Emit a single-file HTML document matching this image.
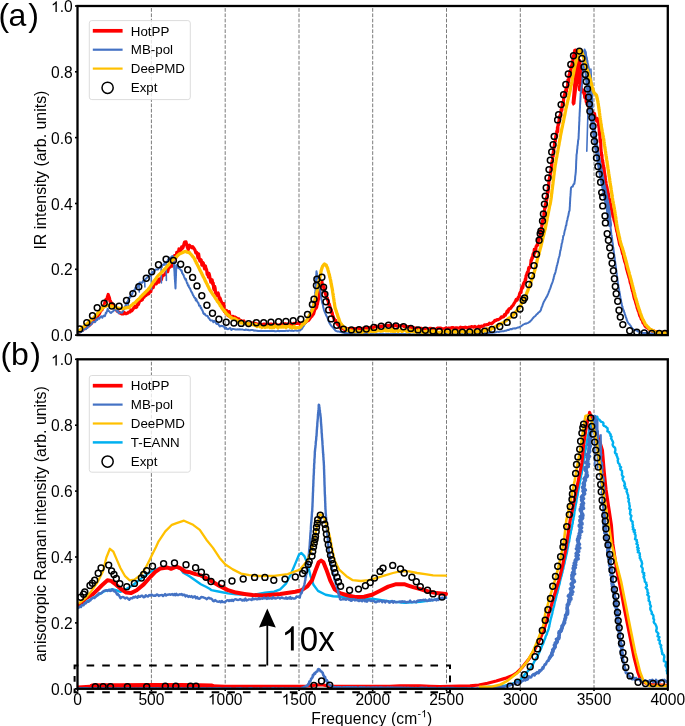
<!DOCTYPE html><html><head><meta charset="utf-8"><style>html,body{margin:0;padding:0;background:#fff;}svg{display:block;} text{font-family:"Liberation Sans",sans-serif;fill:#000;} svg{will-change:transform;}</style></head><body>
<svg width="685" height="726" viewBox="0 0 685 726">
<line x1="151.4" y1="335.1" x2="151.4" y2="6.0" stroke="#7a7a7a" stroke-width="1" stroke-dasharray="3.7 1.6"/>
<line x1="225.2" y1="335.1" x2="225.2" y2="6.0" stroke="#7a7a7a" stroke-width="1" stroke-dasharray="3.7 1.6"/>
<line x1="299.0" y1="335.1" x2="299.0" y2="6.0" stroke="#7a7a7a" stroke-width="1" stroke-dasharray="3.7 1.6"/>
<line x1="372.7" y1="335.1" x2="372.7" y2="6.0" stroke="#7a7a7a" stroke-width="1" stroke-dasharray="3.7 1.6"/>
<line x1="446.5" y1="335.1" x2="446.5" y2="6.0" stroke="#7a7a7a" stroke-width="1" stroke-dasharray="3.7 1.6"/>
<line x1="520.3" y1="335.1" x2="520.3" y2="6.0" stroke="#7a7a7a" stroke-width="1" stroke-dasharray="3.7 1.6"/>
<line x1="594.0" y1="335.1" x2="594.0" y2="6.0" stroke="#7a7a7a" stroke-width="1" stroke-dasharray="3.7 1.6"/>
<g clip-path="url(#ca)">
<path d="M78.6,332.2 L79.7,331.9 L80.7,331.0 L81.8,330.6 L82.9,330.0 L83.9,328.6 L85.0,327.8 L86.0,328.1 L87.0,326.4 L88.0,325.5 L89.0,325.9 L90.0,324.2 L91.0,323.9 L92.0,322.5 L92.8,321.8 L93.7,320.0 L94.5,320.0 L95.3,319.6 L96.2,318.0 L97.0,317.5 L97.7,316.2 L98.4,313.7 L99.1,314.2 L99.9,312.6 L100.6,310.8 L101.3,309.0 L102.0,309.9 L102.5,307.8 L103.0,307.3 L103.5,306.5 L104.0,304.9 L104.5,304.4 L105.0,301.7 L105.5,301.7 L106.0,299.3 L106.5,299.6 L107.0,298.2 L108.2,294.5 L108.8,296.2 L109.5,298.1 L110.0,301.6 L110.5,301.1 L111.0,302.9 L111.8,303.1 L112.5,304.8 L113.2,305.6 L114.0,306.6 L115.0,308.2 L116.0,309.2 L117.0,311.0 L118.0,311.4 L119.2,312.7 L120.5,313.1 L121.8,314.0 L123.0,313.9 L124.2,312.4 L125.3,313.7 L126.5,313.6 L127.7,313.1 L128.8,312.0 L130.0,312.0 L131.0,310.0 L132.0,310.7 L133.0,309.2 L134.0,307.6 L135.0,306.2 L136.0,307.5 L136.8,306.9 L137.6,303.3 L138.4,304.4 L139.2,302.2 L140.0,300.4 L140.8,299.9 L141.6,300.3 L142.4,299.7 L143.3,296.1 L144.2,297.0 L145.2,294.1 L146.1,295.5 L147.0,293.2 L147.9,294.2 L148.9,293.6 L149.8,291.0 L150.7,291.8 L151.5,288.3 L152.3,286.5 L153.2,287.5 L154.0,284.4 L154.8,284.0 L155.6,283.9 L156.4,283.8 L157.3,281.0 L158.1,279.5 L158.9,282.1 L159.7,278.8 L160.6,280.7 L161.4,279.5 L162.2,276.2 L163.0,275.7 L163.9,275.0 L164.7,274.7 L165.5,273.3 L166.2,272.0 L167.0,271.2 L167.7,271.6 L168.5,268.3 L169.2,266.8 L170.0,267.1 L170.8,263.5 L171.5,262.7 L172.2,266.1 L173.0,261.7 L173.8,260.7 L174.5,255.7 L175.2,257.5 L176.0,257.6 L176.8,252.3 L177.5,255.3 L178.2,254.2 L179.0,248.8 L179.7,251.9 L180.3,249.8 L181.0,250.3 L181.7,246.9 L182.3,248.5 L183.0,247.7 L184.5,242.1 L186.0,241.8 L187.2,246.9 L188.3,249.7 L189.5,245.2 L190.8,246.7 L192.0,247.7 L192.8,246.7 L193.5,248.0 L194.2,248.7 L195.0,250.1 L195.8,252.9 L196.5,252.1 L197.2,253.9 L198.0,258.0 L198.6,253.8 L199.3,258.9 L199.9,261.2 L200.6,259.4 L201.2,259.9 L201.9,265.2 L202.6,262.2 L203.3,263.0 L203.9,265.9 L204.6,268.9 L205.3,265.7 L206.0,268.4 L206.6,269.7 L207.2,274.5 L207.8,272.9 L208.4,277.1 L209.0,273.3 L209.6,275.7 L210.2,279.2 L210.8,282.1 L211.3,280.1 L211.8,279.6 L212.2,280.1 L212.7,284.2 L213.2,282.9 L213.7,288.5 L214.2,289.9 L214.6,286.3 L215.1,288.1 L215.6,293.1 L216.2,293.1 L216.8,295.5 L217.4,293.4 L218.1,293.0 L218.7,295.4 L219.3,300.2 L219.9,297.7 L220.5,299.4 L221.0,301.0 L221.6,302.2 L222.1,303.2 L222.7,308.0 L223.2,303.6 L223.8,303.6 L224.3,311.5 L225.1,311.9 L225.9,313.6 L226.7,310.5 L227.6,315.1 L228.4,315.8 L229.2,311.6 L230.0,316.3 L231.2,317.7 L232.5,316.3 L233.8,316.8 L235.0,317.1 L236.2,317.9 L237.5,318.5 L238.8,318.9 L240.0,320.7 L241.3,320.6 L242.6,322.0 L243.9,321.0 L245.2,323.0 L246.4,322.9 L247.6,323.6 L248.8,323.9 L250.0,324.2 L251.2,323.7 L252.5,322.9 L253.8,324.2 L255.0,323.4 L256.2,323.7 L257.5,324.4 L258.8,324.2 L260.0,324.2 L261.2,325.0 L262.5,324.5 L263.8,324.1 L265.0,324.0 L266.2,325.0 L267.5,324.4 L268.8,324.9 L270.0,324.2 L271.2,324.0 L272.5,324.5 L273.8,325.0 L275.0,324.0 L276.2,325.0 L277.5,325.2 L278.8,325.1 L280.0,325.1 L281.2,323.8 L282.5,324.7 L283.8,325.1 L285.0,323.7 L286.2,324.1 L287.5,324.0 L288.8,324.4 L290.0,324.2 L291.2,324.3 L292.5,324.7 L293.8,323.4 L295.0,323.5 L296.3,323.4 L297.6,323.3 L298.9,323.0 L300.1,324.4 L301.4,324.1 L302.7,322.6 L304.0,323.2 L305.3,322.7 L306.3,321.7 L307.2,320.9 L308.2,320.5 L309.2,319.5 L310.2,318.1 L311.1,316.8 L312.1,316.1 L312.6,314.6 L313.2,314.4 L313.7,313.6 L314.2,311.7 L314.8,309.8 L315.3,308.9 L315.9,308.3 L316.4,307.8 L316.7,307.0 L317.0,304.7 L317.3,304.6 L317.6,302.9 L318.0,301.0 L318.3,299.6 L318.6,298.7 L318.9,298.2 L319.1,295.9 L319.3,295.6 L319.4,293.5 L319.6,291.4 L319.8,291.1 L319.9,290.4 L320.1,286.7 L320.2,286.7 L320.3,285.4 L320.5,285.9 L320.6,284.8 L322.0,282.0 L322.4,285.5 L322.8,286.3 L323.2,285.6 L323.6,287.6 L324.1,287.5 L324.5,291.4 L324.9,292.0 L325.4,294.0 L325.8,294.9 L326.2,295.7 L326.5,297.1 L326.9,297.8 L327.2,297.6 L327.6,300.3 L327.9,299.8 L328.3,301.4 L328.7,304.6 L329.2,303.8 L329.6,305.2 L330.0,306.6 L330.5,309.9 L330.9,309.4 L331.3,310.2 L331.8,313.3 L332.2,312.7 L332.6,315.5 L333.1,316.2 L333.5,317.7 L334.1,319.0 L334.6,319.3 L335.2,320.8 L335.8,320.5 L336.3,322.9 L336.9,323.5 L337.8,324.8 L338.6,324.8 L339.5,326.8 L340.3,328.0 L341.2,327.7 L342.5,328.4 L343.7,329.1 L345.0,329.7 L346.2,328.8 L347.5,328.6 L348.8,328.6 L350.0,329.0 L351.2,329.1 L352.5,328.7 L353.8,328.6 L355.0,328.7 L356.2,328.6 L357.5,328.7 L358.8,328.2 L360.0,328.8 L361.2,329.3 L362.5,328.4 L363.8,328.7 L365.0,327.7 L366.2,328.3 L367.5,328.2 L368.8,327.9 L370.0,327.5 L371.3,327.3 L372.5,327.4 L373.8,327.7 L375.1,326.4 L376.4,326.2 L377.6,327.0 L378.9,327.1 L380.2,326.4 L381.5,326.1 L382.7,326.4 L384.0,325.4 L385.2,325.5 L386.4,325.3 L387.7,325.9 L388.9,325.4 L390.1,325.3 L391.3,325.9 L392.6,326.3 L393.8,325.2 L395.0,325.8 L396.2,325.5 L397.5,326.3 L398.8,326.0 L400.0,325.6 L401.2,325.7 L402.5,325.5 L403.8,326.3 L405.0,326.3 L406.2,326.2 L407.5,326.7 L408.8,326.8 L410.0,327.7 L411.2,326.9 L412.5,328.3 L413.8,327.8 L415.0,328.1 L416.2,328.0 L417.5,328.6 L418.8,328.7 L420.0,328.3 L421.2,328.3 L422.5,328.7 L423.8,329.0 L425.0,328.4 L426.2,328.9 L427.5,329.3 L428.8,328.7 L430.0,328.4 L431.2,328.4 L432.4,329.0 L433.6,328.9 L434.9,329.3 L436.1,329.1 L437.3,328.2 L438.5,328.1 L439.7,328.2 L440.9,328.1 L442.2,328.8 L443.4,328.9 L444.6,329.0 L445.8,328.0 L447.0,328.8 L448.2,328.0 L449.5,328.2 L450.7,328.6 L451.9,327.6 L453.1,327.6 L454.3,328.6 L455.6,327.8 L456.8,327.9 L458.0,328.1 L459.2,328.2 L460.4,327.2 L461.6,327.6 L462.9,327.7 L464.1,327.6 L465.3,327.2 L466.5,327.6 L467.7,328.1 L468.9,327.2 L470.1,327.3 L471.4,326.6 L472.6,326.8 L473.8,327.2 L475.0,326.4 L476.3,327.5 L477.5,327.4 L478.8,326.2 L480.0,327.4 L481.2,326.1 L482.4,326.3 L483.5,325.9 L484.7,324.8 L485.9,325.0 L487.1,324.6 L488.3,324.5 L489.4,323.2 L490.6,323.6 L491.8,323.6 L492.9,322.5 L494.0,321.7 L495.0,320.3 L496.1,320.4 L497.2,319.6 L498.3,319.7 L499.4,319.0 L500.5,318.2 L501.5,316.8 L502.6,317.2 L503.7,316.6 L504.5,314.6 L505.4,315.1 L506.2,313.5 L507.1,311.2 L507.9,312.1 L508.8,309.1 L509.6,308.6 L510.4,308.6 L511.3,307.3 L512.1,306.2 L513.0,305.4 L513.8,303.9 L514.7,302.5 L515.5,301.0 L516.2,299.5 L516.9,300.3 L517.6,299.2 L518.3,297.3 L519.0,296.8 L519.5,294.3 L520.0,292.8 L520.5,292.0 L521.0,292.6 L521.5,288.3 L521.9,288.9 L522.3,286.7 L522.8,287.6 L523.2,284.8 L523.6,283.5 L524.0,282.6 L524.4,282.0 L524.9,281.9 L525.3,279.0 L525.7,280.0 L526.1,275.6 L526.5,275.2 L527.0,273.3 L527.4,272.2 L527.8,274.1 L528.1,272.7 L528.5,268.8 L528.9,267.6 L529.3,267.5 L529.6,268.0 L530.0,267.1 L530.4,265.6 L530.8,263.6 L531.1,260.0 L531.5,260.2 L531.9,257.9 L532.2,258.5 L532.6,257.6 L533.0,254.3 L533.4,253.3 L533.9,255.2 L534.3,249.4 L534.8,252.8 L535.2,252.1 L535.6,251.2 L536.1,246.5 L536.5,246.3 L536.9,245.2 L537.4,244.2 L537.8,245.0 L538.2,242.0 L538.6,238.4 L539.1,240.4 L539.5,236.9 L539.8,236.4 L540.1,235.9 L540.3,230.3 L540.6,233.7 L540.9,231.9 L541.2,229.6 L541.4,228.6 L541.7,227.0 L542.0,224.2 L542.2,224.9 L542.5,220.7 L542.7,222.2 L542.9,221.8 L543.1,219.3 L543.4,218.8 L543.6,219.8 L543.8,218.2 L544.0,212.4 L544.3,215.0 L544.5,212.7 L544.7,208.1 L544.9,208.7 L545.1,206.7 L545.3,204.5 L545.5,206.1 L545.7,207.2 L545.8,202.3 L546.0,204.4 L546.2,202.1 L546.4,197.5 L546.6,200.6 L546.8,197.8 L547.0,198.6 L547.2,196.1 L547.4,195.0 L547.6,191.4 L547.8,192.9 L548.0,192.4 L548.2,190.8 L548.3,187.0 L548.5,187.7 L548.7,184.8 L548.9,181.3 L549.1,179.7 L549.3,178.7 L549.5,178.2 L549.7,176.8 L549.9,177.6 L550.0,177.6 L550.2,175.4 L550.4,173.5 L550.6,173.6 L550.8,170.3 L550.9,170.1 L551.1,170.6 L551.3,167.3 L551.5,164.7 L551.6,167.8 L551.8,165.5 L552.0,162.2 L552.2,161.0 L552.4,160.7 L552.5,159.9 L552.7,156.5 L552.9,153.9 L553.1,154.0 L553.2,156.2 L553.4,151.1 L553.6,151.8 L553.8,149.0 L554.0,147.9 L554.1,146.5 L554.3,146.6 L554.5,144.0 L554.7,141.9 L555.0,141.2 L555.2,140.3 L555.4,141.0 L555.7,137.2 L555.9,135.7 L556.1,137.1 L556.3,135.6 L556.6,136.1 L556.8,131.0 L557.0,131.9 L557.3,130.6 L557.5,127.2 L557.7,131.6 L558.0,125.9 L558.2,124.0 L558.4,125.1 L558.6,122.1 L558.9,123.6 L559.1,120.8 L559.3,118.3 L559.5,116.7 L559.8,119.5 L560.0,115.7 L560.2,117.5 L560.5,114.4 L560.8,116.0 L561.0,111.0 L561.2,109.5 L561.5,108.4 L561.8,110.5 L562.0,108.2 L562.2,105.3 L562.5,102.6 L562.8,104.8 L563.1,105.3 L563.4,101.8 L563.8,97.0 L564.1,95.9 L564.4,95.0 L564.7,94.3 L565.0,92.2 L565.3,91.1 L565.6,93.4 L565.9,93.7 L566.1,88.2 L566.4,91.6 L566.7,87.4 L567.0,88.1 L567.3,87.5 L567.6,86.4 L567.9,79.8 L568.1,80.2 L568.4,80.8 L568.7,81.6 L569.0,75.2 L569.2,75.2 L569.5,77.3 L569.8,71.7 L570.1,72.1 L570.3,70.5 L570.6,71.3 L570.9,71.6 L571.2,65.8 L571.5,67.9 L571.7,66.7 L572.0,66.0 L572.3,63.0 L572.6,64.0 L572.9,59.3 L573.1,58.3 L573.4,55.9 L573.7,58.0 L574.0,54.9 L574.4,52.2 L574.8,50.3 L575.1,52.2 L575.5,50.1 L576.0,52.0 L576.5,51.3 L576.6,53.2 L576.7,52.5 L576.8,57.1 L576.9,54.2 L577.0,58.2 L577.0,61.2 L577.1,62.0 L577.2,59.8 L577.3,61.9 L577.4,66.8 L577.5,66.9 L577.9,67.1 L578.3,65.8 L578.7,62.1 L579.1,63.6 L579.5,61.4 L579.6,60.3 L579.8,61.7 L579.9,61.2 L580.0,64.4 L580.1,69.0 L580.2,65.1 L580.4,69.2 L580.5,67.7 L580.6,68.7 L580.8,73.4 L580.9,72.2 L581.0,72.3 L580.9,74.2 L580.7,78.5 L580.5,79.4 L580.4,77.3 L580.2,79.9 L580.1,85.6 L580.0,82.4 L579.8,85.8 L579.6,86.2 L579.5,89.7 L580.5,89.6 L581.5,91.7 L582.4,91.2 L583.4,90.1 L583.9,91.3 L584.3,91.9 L584.8,97.6 L585.2,94.5 L585.7,95.1 L586.2,102.0 L586.6,98.6 L587.1,104.0 L587.5,100.3 L588.0,103.8 L588.6,103.6 L589.2,108.5 L589.8,108.4 L590.4,109.9 L591.0,111.8 L591.6,113.7 L592.3,111.7 L593.1,114.3 L593.8,114.5 L594.5,113.6 L595.3,119.0 L596.0,118.7 L596.7,121.1 L597.5,118.5 L598.2,121.6 L598.3,122.4 L598.5,125.3 L598.6,122.6 L598.8,125.4 L598.9,127.5 L599.0,126.3 L599.2,130.4 L599.3,132.7 L599.5,132.1 L599.6,134.7 L599.8,135.7 L599.9,134.6 L600.0,136.7 L600.1,141.8 L600.3,139.1 L600.4,141.0 L600.5,140.2 L600.6,142.3 L600.8,143.2 L600.9,149.1 L601.0,149.2 L601.1,151.3 L601.3,153.3 L601.4,152.3 L601.5,155.5 L601.7,154.4 L601.9,155.0 L602.1,159.4 L602.3,160.4 L602.5,161.9 L602.7,160.4 L602.8,163.4 L603.0,162.5 L603.2,167.3 L603.4,168.1 L603.6,165.6 L603.8,170.7 L604.0,167.5 L604.2,170.1 L604.4,172.2 L604.6,172.9 L604.8,174.5 L605.0,175.9 L605.2,176.4 L605.3,178.6 L605.5,179.2 L605.7,180.7 L605.9,181.9 L606.1,183.7 L606.3,185.0 L606.5,185.6 L606.8,186.6 L607.1,188.1 L607.3,189.5 L607.6,190.3 L607.9,191.6 L608.2,193.7 L608.5,194.9 L608.8,196.5 L609.0,197.8 L609.3,198.9 L609.6,199.4 L609.8,200.3 L610.1,201.7 L610.3,203.1 L610.6,204.4 L610.8,205.7 L611.0,206.6 L611.3,208.5 L611.5,208.9 L611.8,210.3 L612.0,212.1 L612.3,213.2 L612.5,213.7 L612.8,214.9 L613.1,216.9 L613.5,217.0 L613.8,218.4 L614.1,220.1 L614.5,221.4 L614.8,222.0 L615.1,223.1 L615.4,224.5 L615.8,226.5 L616.1,227.3 L616.4,229.3 L616.6,230.2 L616.9,231.7 L617.1,231.5 L617.4,233.0 L617.6,233.9 L617.8,235.7 L618.1,236.8 L618.3,237.6 L618.6,239.5 L618.8,240.0 L619.1,241.5 L619.3,242.6 L619.7,244.6 L620.1,245.2 L620.5,246.2 L621.0,247.0 L621.4,248.7 L621.8,250.2 L622.1,251.4 L622.4,253.0 L622.7,254.0 L623.1,254.4 L623.4,255.4 L623.7,257.5 L624.0,258.7 L624.3,259.5 L624.6,261.1 L624.9,261.9 L625.2,262.7 L625.6,263.8 L625.9,264.8 L626.2,266.8 L626.5,268.4 L626.8,269.6 L627.1,270.1 L627.4,271.6 L627.8,273.1 L628.1,274.2 L628.4,275.1 L628.7,276.0 L629.0,277.3 L629.3,278.0 L629.7,279.2 L630.0,281.1 L630.3,282.7 L630.6,283.3 L630.9,284.3 L631.2,285.4 L631.5,286.7 L631.8,288.4 L632.1,289.1 L632.4,290.9 L632.7,291.0 L633.0,292.4 L633.3,293.9 L633.6,294.9 L633.9,296.7 L634.2,297.9 L634.6,299.2 L634.9,299.9 L635.2,300.3 L635.6,302.2 L636.0,303.4 L636.3,304.5 L636.7,305.4 L637.0,307.1 L637.4,308.6 L637.7,308.6 L638.1,310.6 L638.6,311.4 L639.0,312.8 L639.4,314.5 L639.8,315.8 L640.3,316.5 L640.7,317.1 L641.3,319.3 L641.9,319.4 L642.5,320.9 L643.0,322.7 L643.6,323.2 L644.2,324.3 L645.2,326.2 L646.1,327.1 L647.1,327.2 L648.0,328.3 L649.0,329.1 L650.2,329.4 L651.4,330.1 L652.6,331.6 L653.8,330.9 L655.0,331.6 L656.2,331.6 L657.5,331.5 L658.8,332.1 L660.0,332.5 L661.2,332.7 L662.5,332.4 L663.8,332.7 L665.0,331.6" fill="none" stroke="#ff0000" stroke-width="3.2" stroke-linejoin="round" stroke-linecap="round" />
<polygon points="575.5,49.5 578.0,55.0 580.0,63.0 582.0,68.0 582.5,78.0 582.8,88.0 584.5,92.0 586.0,97.0 584.5,99.0 582.5,94.0 580.5,88.0 579.5,84.0 578.3,84.0 577.0,90.0 576.0,98.0 575.4,104.0 573.0,106.0 571.5,103.0 572.5,92.0 573.5,80.0 574.5,66.0 575.0,55.0" fill="#ff0000"/>
<path d="M78.6,332.9 L79.5,332.6 L80.4,332.2 L81.2,332.0 L82.1,331.0 L83.0,330.9 L83.9,328.2 L84.8,328.7 L85.7,329.3 L86.5,328.0 L87.4,328.1 L88.3,325.6 L89.2,325.9 L90.0,324.7 L90.8,324.8 L91.6,324.2 L92.4,322.2 L93.2,322.0 L94.0,321.5 L94.8,322.3 L95.6,321.3 L96.4,319.2 L97.2,320.0 L98.2,318.0 L99.3,318.6 L100.3,317.0 L101.3,316.2 L102.3,317.8 L103.4,315.8 L104.4,315.3 L104.9,316.2 L105.3,315.0 L105.8,312.7 L106.3,313.3 L106.8,311.4 L107.2,310.8 L107.7,308.7 L108.5,311.1 L109.3,311.2 L110.1,312.5 L110.9,313.0 L111.7,312.2 L112.7,311.7 L113.7,310.6 L114.7,309.9 L115.7,309.1 L116.5,310.3 L117.3,311.7 L118.0,310.9 L118.8,313.2 L119.6,313.0 L120.7,312.3 L121.8,312.8 L122.9,311.4 L123.4,310.0 L123.8,309.5 L124.3,309.1 L124.8,306.6 L125.3,307.8 L125.7,304.6 L126.2,305.4 L126.7,304.7 L127.2,301.8 L127.6,302.7 L128.1,300.7 L128.6,300.3 L129.1,298.0 L129.6,297.1 L130.0,296.5 L130.5,297.4 L131.0,294.6 L131.5,295.0 L131.9,294.5 L132.4,293.6 L132.9,291.2 L133.6,290.5 L134.2,290.1 L134.9,289.9 L135.5,287.5 L136.2,288.2 L136.9,287.5 L137.5,286.9 L138.2,284.1 L138.8,285.5 L139.5,282.6 L140.4,282.6 L141.2,282.7 L142.1,282.8 L143.0,280.8 L143.9,281.6 L144.8,280.1 L145.6,278.9 L146.5,278.4 L147.4,277.2 L148.2,276.1 L149.1,275.5 L150.0,276.0 L150.8,275.9 L151.6,273.0 L152.3,271.9 L153.1,273.4 L154.0,271.5 L154.9,270.5 L155.8,269.4 L156.8,269.6 L157.8,269.6 L158.8,268.1 L159.7,267.5 L160.7,266.0 L161.7,267.5 L162.4,264.7 L163.1,265.0 L163.9,265.1 L164.6,262.7 L165.3,263.4 L166.1,263.2 L166.8,261.7 L167.5,261.4 L168.3,259.0 L169.2,259.1 L170.0,257.6 L170.9,258.6 L171.7,256.5 L172.6,256.1 L173.4,256.7 L173.5,257.4 L173.5,258.7 L173.6,258.5 L173.7,259.6 L173.7,261.2 L173.8,261.6 L173.9,262.2 L173.9,263.5 L174.0,263.9 L174.1,265.5 L174.1,268.0 L174.2,268.9 L174.3,269.2 L174.3,269.9 L174.4,270.5 L174.4,271.0 L174.5,272.4 L174.6,274.7 L174.6,275.9 L174.7,275.7 L174.8,277.8 L174.8,278.8 L174.9,279.6 L175.0,280.6 L175.0,281.8 L175.1,281.9 L175.2,283.8 L175.2,283.8 L175.3,285.3 L175.4,287.0 L175.4,287.8 L175.5,287.9 L175.5,288.5 L175.6,286.7 L175.6,285.5 L175.6,283.2 L175.7,283.4 L175.7,281.7 L175.7,281.7 L175.8,280.2 L175.8,280.0 L175.8,278.6 L175.9,277.9 L175.9,275.8 L176.0,275.5 L176.0,274.7 L176.0,273.9 L176.1,271.8 L176.1,271.9 L176.1,271.0 L176.2,269.5 L176.2,269.2 L176.2,268.1 L176.3,266.1 L176.3,265.1 L177.0,264.9 L177.8,267.3 L178.5,268.2 L179.2,267.9 L180.0,269.1 L180.7,269.9 L181.2,270.9 L181.7,270.6 L182.1,273.0 L182.6,273.5 L183.1,274.7 L183.6,275.1 L184.0,276.5 L184.5,277.9 L185.0,278.5 L185.4,279.7 L185.8,278.9 L186.2,280.2 L186.6,281.8 L187.0,283.2 L187.4,283.1 L187.8,285.1 L188.2,285.9 L188.6,285.4 L189.0,287.4 L189.4,287.7 L189.9,288.3 L190.4,289.5 L190.9,290.9 L191.3,291.5 L191.8,292.5 L192.3,293.1 L192.9,295.0 L193.5,295.7 L194.1,297.1 L194.7,297.9 L195.3,298.0 L195.8,300.5 L196.4,299.2 L196.9,301.1 L197.4,301.7 L198.0,302.9 L198.5,303.2 L199.1,305.8 L199.6,305.6 L200.2,305.7 L200.7,308.0 L201.2,307.7 L201.8,309.7 L202.3,310.1 L202.9,311.6 L203.4,313.4 L204.0,314.0 L204.7,313.7 L205.5,315.4 L206.2,315.7 L206.9,315.8 L207.7,316.0 L208.4,317.8 L209.2,318.4 L210.1,320.0 L210.9,320.6 L211.7,320.4 L212.5,320.4 L213.4,322.3 L214.2,320.8 L215.2,321.7 L216.1,323.4 L217.1,324.1 L218.1,323.5 L219.0,325.3 L220.0,326.5 L221.0,325.7 L222.0,326.2 L222.9,326.0 L223.9,326.6 L224.9,328.6 L225.9,327.5 L227.0,329.1 L228.1,329.2 L229.2,328.6 L230.3,328.0 L231.4,329.9 L232.5,328.9 L233.6,329.1 L234.7,329.2 L235.7,329.6 L236.7,329.4 L237.8,329.3 L238.8,329.5 L239.8,329.3 L240.8,329.6 L241.8,329.6 L242.9,329.6 L243.9,329.9 L244.9,330.0 L245.9,329.5 L246.9,329.9 L248.0,329.8 L249.0,330.2 L250.0,330.2 L251.0,330.0 L252.0,330.1 L253.0,330.1 L254.0,330.7 L255.0,330.4 L256.0,330.7 L257.0,330.7 L258.0,330.9 L259.0,331.0 L260.0,331.1 L261.0,330.8 L262.0,331.1 L263.0,330.9 L264.0,331.0 L265.0,330.9 L266.0,330.9 L267.0,331.0 L268.0,331.0 L269.0,330.9 L270.0,331.1 L271.0,331.0 L272.0,330.7 L273.0,330.9 L274.0,331.0 L275.0,331.2 L276.0,331.2 L277.0,331.0 L278.0,330.7 L279.0,331.2 L280.0,331.0 L281.0,331.0 L282.0,331.1 L283.0,331.0 L284.0,330.9 L285.0,331.1 L286.0,330.8 L287.0,330.8 L288.0,331.0 L289.0,330.6 L290.0,330.6 L291.0,330.9 L292.0,330.5 L293.0,330.9 L294.0,330.8 L295.0,330.6 L296.0,330.5 L297.0,330.7 L298.0,330.8 L299.0,330.3 L300.0,330.5 L301.0,329.6 L302.0,328.7 L302.5,327.7 L303.1,326.8 L303.6,326.2 L304.1,325.4 L304.6,324.1 L305.2,323.3 L305.7,322.9 L306.2,322.0 L306.7,321.0 L307.3,319.7 L307.8,319.4 L308.2,318.6 L308.5,317.6 L308.9,316.4 L309.3,315.0 L309.6,314.6 L310.0,313.1 L310.4,312.5 L310.7,311.8 L311.1,310.6 L311.5,309.2 L311.8,308.3 L312.2,307.8 L312.5,306.2 L312.9,305.6 L313.2,304.5 L313.5,303.3 L313.9,302.7 L314.2,301.2 L314.6,300.2 L314.9,299.5 L315.0,298.2 L315.0,297.2 L315.1,296.7 L315.1,295.8 L315.2,295.0 L315.2,293.2 L315.3,292.5 L315.4,291.4 L315.4,290.7 L315.5,289.6 L315.5,289.0 L315.6,287.4 L315.6,286.1 L315.7,285.8 L315.8,284.2 L315.8,283.7 L315.9,282.5 L315.9,282.0 L316.0,280.6 L316.0,279.7 L316.1,278.2 L316.2,277.6 L316.2,276.2 L316.3,275.8 L316.3,274.5 L316.4,273.1 L316.4,272.2 L316.5,271.3 L316.7,272.8 L316.9,273.1 L317.1,274.7 L317.3,275.6 L317.5,275.9 L317.7,277.6 L317.9,277.9 L318.1,278.9 L318.4,280.4 L318.6,281.0 L318.8,282.7 L319.0,283.3 L319.2,284.1 L319.4,285.6 L319.6,285.7 L319.8,287.4 L319.9,287.8 L320.1,288.9 L320.2,290.8 L320.4,291.5 L320.5,292.1 L320.6,293.0 L320.8,294.9 L320.9,295.6 L321.1,296.8 L321.2,297.2 L321.4,298.7 L321.5,299.5 L321.8,300.4 L322.0,301.5 L322.2,302.8 L322.5,303.6 L322.8,304.7 L323.0,305.5 L323.2,307.2 L323.5,308.0 L323.8,309.2 L324.0,309.9 L324.4,311.2 L324.8,312.0 L325.2,313.0 L325.6,313.9 L326.0,315.0 L326.4,315.8 L326.9,316.5 L327.3,317.4 L327.7,318.5 L328.1,319.4 L328.5,320.9 L328.9,321.6 L329.3,322.8 L329.7,323.3 L330.3,324.4 L331.0,325.5 L331.6,326.1 L332.3,326.8 L332.9,327.6 L333.6,328.2 L334.2,329.1 L334.9,329.9 L335.5,330.8 L336.6,331.1 L337.6,331.6 L338.7,331.4 L339.7,331.7 L340.8,332.0 L341.8,332.2 L342.9,332.5 L343.9,332.7 L345.0,333.1 L346.0,332.9 L347.0,333.4 L348.0,333.2 L349.0,333.6 L350.0,333.5 L351.0,333.6 L352.0,333.5 L353.0,333.8 L354.0,333.4 L355.0,333.8 L356.0,333.7 L357.0,333.9 L358.0,334.0 L359.0,333.8 L360.0,333.8 L361.0,333.8 L362.0,333.9 L363.0,333.8 L364.0,334.0 L365.0,334.3 L366.0,333.9 L367.0,333.9 L368.0,334.0 L369.0,333.9 L370.0,334.1 L371.0,334.1 L372.0,333.9 L373.0,333.9 L374.0,334.1 L375.0,334.3 L376.0,334.1 L377.0,334.0 L378.0,334.3 L379.0,333.8 L380.0,333.8 L381.0,334.2 L382.0,334.0 L383.0,333.8 L384.0,334.1 L385.0,334.3 L386.0,334.1 L387.0,334.0 L388.0,333.9 L389.0,333.9 L390.0,334.3 L391.0,334.1 L392.0,334.3 L393.0,333.9 L394.0,334.0 L395.0,333.9 L396.0,334.1 L397.0,333.9 L398.0,334.0 L399.0,334.1 L400.0,334.0 L401.0,333.9 L402.0,333.9 L403.0,334.4 L404.0,334.0 L405.0,334.1 L406.0,334.1 L407.0,334.2 L408.0,333.9 L409.0,334.0 L410.0,333.9 L411.0,334.2 L412.0,334.4 L413.0,334.2 L414.0,334.3 L415.0,334.0 L416.0,333.9 L417.0,334.2 L418.0,334.2 L419.0,334.2 L420.0,334.1 L421.0,334.2 L422.0,334.3 L423.0,334.4 L424.0,334.1 L425.0,334.2 L426.0,334.4 L427.0,334.1 L428.0,334.0 L429.0,334.1 L430.0,334.0 L431.0,334.3 L432.0,334.3 L433.0,334.0 L434.0,333.9 L435.0,333.9 L436.0,334.0 L437.0,333.9 L438.1,334.0 L439.1,334.1 L440.1,333.9 L441.1,333.8 L442.1,334.1 L443.1,333.7 L444.1,333.8 L445.1,333.8 L446.1,333.8 L447.1,333.7 L448.1,333.8 L449.1,333.7 L450.1,334.0 L451.1,333.8 L452.2,334.0 L453.2,333.8 L454.2,333.9 L455.2,333.8 L456.2,333.7 L457.2,333.9 L458.2,333.7 L459.2,333.9 L460.2,333.7 L461.2,333.7 L462.2,333.5 L463.2,333.7 L464.2,333.5 L465.2,333.3 L466.2,333.3 L467.3,333.3 L468.3,333.4 L469.3,333.6 L470.3,333.3 L471.3,333.2 L472.3,333.5 L473.3,333.4 L474.3,333.1 L475.3,333.1 L476.3,333.1 L477.3,333.2 L478.3,333.5 L479.3,333.5 L480.3,333.3 L481.4,333.1 L482.4,333.2 L483.4,333.1 L484.4,333.1 L485.4,332.9 L486.4,333.2 L487.4,333.3 L488.4,333.2 L489.4,332.8 L490.5,332.8 L491.5,332.5 L492.6,332.7 L493.6,332.4 L494.7,332.5 L495.7,332.3 L496.7,331.8 L497.8,331.8 L498.8,332.0 L499.9,331.6 L500.9,331.4 L502.0,331.3 L503.0,331.3 L504.0,331.2 L505.0,330.7 L505.9,330.7 L506.9,330.3 L507.9,329.8 L508.9,329.9 L509.8,329.4 L510.8,329.0 L511.8,329.3 L512.8,328.5 L513.9,328.6 L514.9,328.3 L515.9,328.4 L516.9,327.9 L518.0,327.5 L519.0,327.4 L519.9,326.7 L520.8,326.4 L521.6,325.7 L522.5,325.3 L523.4,324.4 L524.3,324.1 L525.3,323.6 L526.2,323.7 L527.2,323.2 L528.1,322.8 L529.1,322.2 L530.0,321.6 L530.7,320.7 L531.4,320.3 L532.1,319.3 L532.9,318.2 L533.6,317.5 L534.3,316.6 L535.0,316.3 L535.8,315.6 L536.6,314.3 L537.4,313.9 L538.2,312.8 L539.0,312.2 L539.8,311.6 L540.6,310.6 L541.0,309.8 L541.3,308.5 L541.6,307.3 L542.0,306.8 L542.4,305.9 L542.7,304.6 L543.0,303.8 L543.4,302.8 L543.9,301.6 L544.3,301.0 L544.8,300.1 L545.3,299.3 L545.8,298.5 L546.2,297.3 L546.7,297.0 L547.2,295.9 L547.6,295.0 L548.1,293.9 L548.5,292.9 L548.8,291.9 L549.2,291.2 L549.6,289.8 L550.0,289.1 L550.3,288.3 L550.7,287.1 L551.1,285.9 L551.4,284.8 L551.8,283.8 L552.1,283.1 L552.4,282.4 L552.7,281.6 L553.0,280.5 L553.3,279.0 L553.6,278.8 L553.8,277.0 L554.1,276.5 L554.4,274.7 L554.7,274.5 L555.0,273.4 L555.3,272.8 L555.6,271.7 L555.8,270.4 L556.1,269.6 L556.3,268.5 L556.6,267.3 L556.8,265.8 L557.1,265.2 L557.3,264.7 L557.6,262.8 L557.8,262.9 L558.1,261.3 L558.3,260.1 L558.6,258.5 L558.8,258.0 L559.1,256.7 L559.3,256.4 L559.5,255.8 L559.7,254.8 L559.9,253.4 L560.1,252.1 L560.3,250.7 L560.5,250.6 L560.7,249.4 L560.9,248.7 L561.1,247.1 L561.3,247.0 L561.5,244.9 L561.7,244.1 L561.9,243.0 L562.1,242.6 L562.3,242.1 L562.5,239.9 L562.7,239.7 L562.9,238.9 L563.1,237.0 L563.3,235.8 L563.6,235.6 L563.8,235.1 L564.1,234.2 L564.3,232.9 L564.6,231.4 L564.8,230.4 L565.1,229.6 L565.3,229.2 L565.6,227.1 L565.8,226.1 L566.1,225.7 L566.3,225.3 L566.6,222.9 L566.8,221.7 L567.0,220.8 L567.2,220.6 L567.4,219.7 L567.7,217.9 L567.9,216.9 L568.1,216.6 L568.3,215.7 L568.5,214.8 L568.7,213.8 L569.0,211.6 L569.2,211.4 L569.4,211.0 L569.6,210.2 L569.7,208.1 L569.7,208.0 L569.8,206.6 L569.9,206.1 L569.9,203.8 L570.0,203.7 L570.0,202.9 L570.1,201.2 L570.2,199.6 L570.2,198.7 L570.3,197.6 L570.4,196.5 L570.4,195.6 L570.5,195.4 L570.6,193.5 L570.6,193.6 L570.7,192.6 L570.7,191.7 L570.8,190.7 L570.9,189.5 L570.9,188.9 L571.0,187.9 L571.9,186.7 L572.7,186.6 L573.5,184.4 L574.4,183.7 L574.5,182.6 L574.6,181.8 L574.8,181.1 L574.9,180.2 L575.0,179.6 L575.1,178.6 L575.2,176.4 L575.3,176.0 L575.4,175.2 L575.6,173.8 L575.7,172.3 L575.8,172.2 L575.8,170.7 L575.9,170.3 L575.9,168.9 L576.0,168.7 L576.0,167.6 L576.1,165.0 L576.1,165.2 L576.1,164.1 L576.2,162.4 L576.2,161.0 L576.3,160.6 L576.3,159.4 L576.4,159.0 L576.4,158.3 L576.5,156.3 L576.5,155.1 L576.6,154.5 L576.7,153.9 L576.9,153.0 L577.0,151.6 L577.1,150.1 L577.2,149.2 L577.3,149.1 L577.4,147.5 L577.5,145.7 L577.7,145.4 L577.8,144.0 L577.9,143.8 L578.0,141.7 L578.1,141.1 L578.2,139.8 L578.4,139.5 L578.5,139.4 L578.6,137.6 L578.6,136.3 L578.7,136.2 L578.7,133.7 L578.8,133.2 L578.8,133.0 L578.9,130.5 L578.9,130.8 L579.0,129.1 L579.0,127.5 L579.0,126.9 L579.1,126.2 L579.1,125.1 L579.2,124.3 L579.2,122.4 L579.3,121.7 L579.3,122.1 L579.4,120.1 L579.4,119.1 L579.4,117.4 L579.5,116.7 L579.5,116.9 L579.6,115.4 L579.6,114.1 L579.7,112.3 L579.7,111.8 L579.8,111.5 L579.8,109.9 L579.9,109.2 L579.9,108.7 L580.0,107.3 L580.0,106.2 L580.1,104.2 L580.1,103.1 L580.2,103.5 L580.2,101.8 L580.3,101.7 L580.3,100.6 L580.4,99.7 L580.4,97.8 L580.5,97.9 L580.5,96.5 L580.6,95.7 L580.6,93.4 L580.7,93.5 L580.9,91.8 L581.0,91.7 L581.2,90.7 L581.4,88.2 L581.5,87.5 L581.7,86.2 L581.9,85.5 L582.0,84.1 L582.2,83.7 L582.3,81.7 L582.3,80.8 L582.4,80.3 L582.4,78.6 L582.5,78.1 L582.5,78.0 L582.6,77.0 L582.6,74.7 L582.7,73.4 L582.7,73.8 L582.8,73.0 L582.9,71.4 L582.9,69.5 L583.0,68.7 L583.0,68.9 L583.1,67.9 L583.1,65.2 L583.2,64.5 L583.2,63.9 L583.3,62.6 L583.3,62.5 L583.4,60.8 L583.5,60.5 L583.6,58.3 L583.7,57.9 L583.8,57.7 L583.9,56.2 L584.1,54.0 L584.2,53.0 L584.3,53.0 L584.4,51.4 L584.5,50.4 L584.6,49.6 L584.9,50.8 L585.1,52.6 L585.4,52.4 L585.7,54.0 L585.9,54.6 L586.2,56.1 L586.5,57.6 L586.7,57.6 L587.0,59.3 L587.2,60.7 L587.4,60.6 L587.6,63.0 L587.8,63.5 L588.1,64.7 L588.3,66.0 L588.5,67.4 L588.7,67.1 L588.9,69.0 L589.0,69.2 L589.1,70.8 L589.1,71.8 L589.2,72.2 L589.3,73.7 L589.4,75.0 L589.4,76.4 L589.5,77.9 L589.6,77.9 L589.7,79.2 L589.7,80.5 L589.8,81.9 L589.9,83.0 L590.0,84.1 L590.0,83.8 L590.1,84.6 L590.2,87.0 L590.3,86.5 L590.3,88.2 L590.4,89.7 L590.5,90.3 L590.6,91.1 L590.7,93.1 L590.7,93.0 L590.8,94.4 L590.9,95.9 L591.0,95.7 L591.0,97.1 L591.1,98.4 L591.2,99.5 L591.3,99.9 L591.3,101.3 L591.4,101.6 L591.5,102.7 L591.6,104.2 L591.6,104.8 L591.7,107.3 L591.8,107.1 L591.9,108.1 L592.0,110.0 L592.1,110.9 L592.2,111.1 L592.3,113.1 L592.5,113.7 L592.6,114.3 L592.7,115.7 L592.8,116.0 L592.9,117.1 L593.0,119.2 L593.1,119.4 L593.2,121.2 L593.3,120.9 L593.5,121.8 L593.6,122.7 L593.7,124.9 L593.8,125.6 L593.9,125.6 L594.0,126.7 L594.1,129.1 L594.2,129.5 L594.3,131.2 L594.4,130.7 L594.5,132.7 L594.7,132.8 L594.8,134.9 L594.9,135.7 L595.0,136.7 L595.1,137.0 L595.3,139.3 L595.5,138.8 L595.7,139.7 L595.9,141.8 L596.1,141.7 L596.3,142.6 L596.5,144.3 L596.7,145.7 L596.9,147.1 L597.1,147.8 L597.2,147.6 L597.4,149.6 L597.6,150.9 L597.8,150.6 L598.0,152.7 L598.2,152.8 L598.4,153.9 L598.6,154.3 L598.8,156.7 L599.0,157.2 L599.2,158.9 L599.4,159.1 L599.6,159.6 L599.8,160.6 L600.0,161.7 L600.2,163.9 L600.4,163.6 L600.6,164.4 L600.8,165.8 L601.0,166.3 L601.2,167.9 L601.4,169.3 L601.6,170.3 L601.8,170.4 L602.0,171.3 L602.2,173.0 L602.4,174.3 L602.6,174.9 L602.8,176.1 L603.0,177.7 L603.2,177.3 L603.4,178.5 L603.6,179.9 L603.8,181.1 L604.0,182.8 L604.2,183.2 L604.4,184.5 L604.6,185.1 L604.9,186.8 L605.1,187.9 L605.3,188.0 L605.5,188.7 L605.7,190.1 L605.9,191.3 L606.1,193.3 L606.3,193.2 L606.5,194.8 L606.7,195.8 L606.9,197.4 L607.1,196.8 L607.3,199.0 L607.5,199.2 L607.7,199.8 L607.9,201.7 L608.1,203.1 L608.3,203.6 L608.5,203.6 L608.7,206.3 L608.9,206.2 L609.0,207.7 L609.1,208.9 L609.1,209.1 L609.2,210.4 L609.3,211.3 L609.4,211.9 L609.5,212.8 L609.5,215.1 L609.6,215.5 L609.7,217.4 L609.8,217.0 L609.9,218.4 L610.0,219.3 L610.0,221.7 L610.1,222.4 L610.2,223.6 L610.3,224.0 L610.4,224.3 L610.4,225.9 L610.5,226.6 L610.6,227.3 L610.7,229.2 L610.9,229.7 L611.0,230.4 L611.1,232.1 L611.3,233.9 L611.4,234.9 L611.5,235.1 L611.7,235.5 L611.8,237.6 L612.0,237.5 L612.1,239.2 L612.2,239.5 L612.4,241.9 L612.5,242.2 L612.6,243.1 L612.8,243.8 L612.9,245.2 L613.0,246.9 L613.2,247.1 L613.3,247.7 L613.5,249.2 L613.6,250.8 L613.7,251.0 L613.9,252.4 L614.0,253.8 L614.1,253.9 L614.3,255.6 L614.4,256.2 L614.5,256.7 L614.7,257.6 L614.8,259.8 L614.9,260.2 L615.1,261.1 L615.2,262.8 L615.3,263.3 L615.5,264.2 L615.6,264.9 L615.7,266.6 L615.9,266.9 L616.0,268.2 L616.1,269.6 L616.2,270.4 L616.4,270.8 L616.5,271.9 L616.6,273.5 L616.8,274.5 L616.9,274.8 L617.0,276.9 L617.2,276.8 L617.3,277.9 L617.4,278.8 L617.6,280.2 L617.7,281.4 L617.8,282.7 L618.0,282.9 L618.1,284.5 L618.3,284.9 L618.5,286.4 L618.7,287.1 L618.8,288.3 L619.0,289.0 L619.2,290.7 L619.4,291.1 L619.6,292.8 L619.8,293.4 L620.0,294.7 L620.1,295.8 L620.3,296.6 L620.5,298.0 L620.7,299.1 L620.9,299.5 L621.1,300.6 L621.2,302.1 L621.4,302.5 L621.6,303.8 L621.8,304.8 L622.1,306.3 L622.5,306.6 L622.8,308.0 L623.1,309.1 L623.5,310.1 L623.8,310.5 L624.1,312.2 L624.5,312.7 L624.8,314.1 L625.2,315.0 L625.5,315.8 L625.8,317.1 L626.2,317.9 L626.5,318.7 L626.8,320.0 L627.2,320.8 L627.5,321.9 L628.1,322.7 L628.7,323.7 L629.4,324.1 L630.0,325.1 L630.6,325.7 L631.2,327.0 L631.9,327.8 L632.5,328.7 L633.1,329.0 L634.0,329.7 L635.0,330.0 L635.9,330.2 L636.9,330.6 L637.8,331.4 L638.7,331.7 L639.7,331.7 L640.6,332.4 L641.6,332.7 L642.5,332.9 L643.5,333.1 L644.5,332.9 L645.6,333.0 L646.6,332.9 L647.6,333.3 L648.6,333.3 L649.7,333.4 L650.7,333.4 L651.7,333.4 L652.7,333.4 L653.8,333.6 L654.8,333.5 L655.8,333.6 L656.8,333.8 L657.8,333.7 L658.9,333.8 L659.9,333.5 L660.9,333.7 L661.9,334.0 L663.0,333.7 L664.0,333.7 L665.0,333.8" fill="none" stroke="#4472c4" stroke-width="2.0" stroke-linejoin="round" stroke-linecap="round" />
<path d="M588.0,110.0 L586.8,151.3" fill="none" stroke="#4472c4" stroke-width="1.6" stroke-linejoin="round" stroke-linecap="round" />
<path d="M590.9,69.0 L592.8,107.5" fill="none" stroke="#4472c4" stroke-width="1.6" stroke-linejoin="round" stroke-linecap="round" />
<path d="M144.6,280.0 L144.9,287.0" fill="none" stroke="#4472c4" stroke-width="1.6" stroke-linejoin="round" stroke-linecap="round" />
<path d="M151.2,274.5 L151.5,289.5" fill="none" stroke="#4472c4" stroke-width="1.6" stroke-linejoin="round" stroke-linecap="round" />
<path d="M161.1,266.7 L161.4,283.0" fill="none" stroke="#4472c4" stroke-width="1.6" stroke-linejoin="round" stroke-linecap="round" />
<path d="M166.1,262.0 L166.4,280.5" fill="none" stroke="#4472c4" stroke-width="1.6" stroke-linejoin="round" stroke-linecap="round" />
<path d="M139.0,285.0 L139.3,292.0" fill="none" stroke="#4472c4" stroke-width="1.6" stroke-linejoin="round" stroke-linecap="round" />
<path d="M128.0,300.0 L128.3,306.0" fill="none" stroke="#4472c4" stroke-width="1.6" stroke-linejoin="round" stroke-linecap="round" />
<path d="M584.6,52.0 L586.0,66.0 L587.5,82.0 L589.0,97.0 L590.5,111.0 L593.5,128.0 L596.0,145.0 L598.5,161.0 L601.5,178.0 L604.8,194.0 L608.0,210.0 L610.0,225.0" fill="none" stroke="#4472c4" stroke-width="4.2" stroke-linejoin="round" stroke-linecap="round" />
<path d="M78.6,331.1 L79.4,330.6 L80.1,330.0 L80.9,329.4 L81.6,328.4 L82.4,327.8 L83.1,327.1 L83.9,326.5 L84.7,326.1 L85.4,325.1 L86.2,324.6 L86.9,323.8 L87.7,323.2 L88.4,322.6 L89.2,322.2 L89.9,321.3 L90.7,320.3 L91.4,319.7 L92.1,318.9 L92.9,318.5 L93.6,317.8 L94.3,317.0 L95.1,316.3 L95.8,315.5 L96.5,314.8 L97.3,313.9 L98.0,312.8 L98.7,312.3 L99.5,311.3 L100.2,310.7 L100.9,309.8 L101.7,308.9 L102.4,308.0 L103.3,307.5 L104.2,306.9 L105.1,306.3 L105.9,306.1 L106.8,305.5 L107.7,305.0 L108.6,305.3 L109.6,305.6 L110.5,306.0 L111.5,306.1 L112.4,306.7 L113.4,307.0 L114.3,307.2 L115.3,307.4 L116.3,307.8 L117.3,307.8 L118.3,308.1 L119.3,308.3 L120.3,308.4 L121.3,308.4 L122.3,308.8 L123.4,308.4 L124.5,308.2 L125.6,307.9 L126.7,307.8 L127.8,307.4 L128.9,307.5 L129.7,307.0 L130.6,306.0 L131.4,305.5 L132.2,305.0 L133.0,303.9 L133.8,303.2 L134.7,302.9 L135.5,302.3 L136.2,301.4 L137.0,300.5 L137.7,299.9 L138.4,299.4 L139.2,298.6 L139.9,297.9 L140.6,296.8 L141.4,296.4 L142.1,295.4 L142.8,294.9 L143.6,293.9 L144.3,293.5 L145.0,292.6 L145.8,291.9 L146.5,291.0 L147.2,290.4 L148.0,289.7 L148.7,288.9 L149.3,288.0 L149.9,287.3 L150.5,286.2 L151.2,285.3 L151.8,284.4 L152.4,283.8 L153.0,282.6 L153.6,281.8 L154.2,280.8 L154.8,280.3 L155.5,279.3 L156.1,278.5 L156.7,277.3 L157.3,276.7 L158.0,275.9 L158.8,275.0 L159.5,274.3 L160.2,274.0 L160.9,272.9 L161.7,272.2 L162.4,271.5 L163.1,270.9 L163.9,269.9 L164.6,269.4 L165.3,268.5 L165.9,268.0 L166.6,266.8 L167.3,266.2 L167.9,265.4 L168.6,264.9 L169.2,263.9 L169.9,263.1 L170.6,262.4 L171.2,261.4 L171.9,260.5 L172.7,260.0 L173.5,259.4 L174.3,258.6 L175.1,257.6 L176.0,257.1 L176.8,256.5 L177.6,255.4 L178.4,254.9 L179.2,254.0 L180.2,253.6 L181.1,253.2 L182.1,252.7 L183.1,252.4 L184.0,251.8 L185.0,251.5 L186.1,251.6 L187.2,252.2 L188.3,252.4 L189.4,252.4 L190.1,253.6 L190.9,254.1 L191.6,255.1 L192.3,256.0 L193.1,256.8 L193.8,257.6 L194.3,258.6 L194.8,259.5 L195.3,260.8 L195.8,261.4 L196.2,262.8 L196.7,263.4 L197.2,264.4 L197.7,265.5 L198.2,266.3 L198.6,267.2 L199.1,268.2 L199.5,269.2 L200.0,270.3 L200.4,271.2 L200.9,271.7 L201.3,272.8 L201.8,273.5 L202.2,274.8 L202.7,275.4 L203.1,276.6 L203.6,277.3 L204.0,278.0 L204.5,278.9 L204.9,279.9 L205.4,281.1 L205.8,281.6 L206.3,282.7 L206.7,283.5 L207.2,284.4 L207.6,285.6 L208.1,286.2 L208.5,287.3 L209.0,288.2 L209.4,289.2 L209.9,289.9 L210.5,291.0 L211.1,291.6 L211.6,292.5 L212.2,293.4 L212.8,294.4 L213.4,295.3 L214.0,295.8 L214.5,296.7 L215.1,297.7 L215.7,298.8 L216.3,299.5 L216.9,300.3 L217.4,301.5 L218.0,302.0 L218.6,302.8 L219.2,303.7 L219.8,304.5 L220.3,305.8 L220.9,306.3 L221.5,307.5 L222.2,308.4 L222.8,309.3 L223.5,310.0 L224.1,310.6 L224.8,311.5 L225.4,312.4 L226.1,313.2 L226.7,313.8 L227.4,314.8 L228.2,315.1 L229.1,315.9 L229.9,316.8 L230.7,317.2 L231.5,317.7 L232.4,318.6 L233.2,319.0 L234.2,318.4 L235.3,318.9 L236.3,319.8 L237.4,320.4 L238.4,322.1 L239.5,321.0 L240.5,322.8 L241.6,323.0 L242.6,322.3 L243.7,323.8 L244.7,323.6 L245.8,323.2 L246.8,322.9 L247.9,323.6 L248.9,324.8 L250.0,324.3 L251.0,323.8 L252.0,324.4 L253.0,324.8 L254.0,324.4 L255.0,325.5 L256.0,324.6 L257.0,326.5 L258.0,325.3 L259.0,325.4 L260.0,326.7 L261.0,326.1 L262.0,327.4 L263.0,326.6 L264.0,326.6 L265.0,327.4 L266.0,326.0 L267.0,327.2 L268.0,327.0 L269.0,326.6 L270.0,327.8 L271.0,325.7 L272.0,327.6 L273.0,326.0 L274.0,327.6 L275.0,326.1 L276.0,325.9 L277.0,326.9 L278.0,327.9 L279.0,326.4 L280.0,327.0 L281.0,327.2 L282.0,326.4 L283.0,327.1 L284.0,325.9 L285.0,326.9 L286.0,327.6 L287.0,326.6 L288.0,326.4 L289.0,326.0 L290.0,327.4 L291.0,326.8 L292.0,327.9 L293.0,327.5 L294.0,326.1 L295.0,327.9 L296.0,328.0 L297.0,327.7 L298.0,327.7 L299.0,327.4 L300.0,327.5 L300.8,326.7 L301.6,325.8 L302.4,324.4 L303.1,323.4 L303.9,324.0 L304.7,323.0 L305.5,321.1 L306.3,321.5 L306.8,320.5 L307.3,319.6 L307.7,318.8 L308.2,317.9 L308.7,316.7 L309.2,316.0 L309.6,314.9 L310.1,314.1 L310.6,313.1 L311.1,312.4 L311.6,311.2 L312.0,310.6 L312.5,309.3 L313.0,308.6 L313.2,307.7 L313.5,306.6 L313.7,305.4 L314.0,304.3 L314.2,303.5 L314.4,302.5 L314.7,301.7 L314.9,300.6 L315.1,299.7 L315.4,298.5 L315.6,297.5 L315.9,296.5 L316.1,295.6 L316.3,294.2 L316.6,293.3 L316.8,292.2 L317.1,291.2 L317.3,290.1 L317.5,289.4 L317.8,288.0 L318.0,287.3 L318.3,285.9 L318.5,284.9 L318.7,284.2 L318.9,282.8 L319.1,281.8 L319.3,280.8 L319.4,279.8 L319.6,278.9 L319.8,277.9 L320.0,276.8 L320.2,275.8 L320.4,275.1 L320.6,273.8 L320.8,272.9 L320.9,272.0 L321.1,271.2 L321.3,270.1 L321.6,269.1 L322.0,268.1 L322.3,267.1 L322.6,266.2 L323.6,264.9 L324.5,264.0 L325.4,264.8 L326.3,265.3 L326.7,266.4 L327.2,267.6 L327.6,268.3 L327.9,269.7 L328.2,270.7 L328.5,271.8 L328.8,272.9 L329.1,273.9 L329.3,275.0 L329.6,276.0 L329.8,277.2 L330.1,277.9 L330.3,279.1 L330.5,279.8 L330.7,281.2 L330.9,282.0 L331.1,283.4 L331.3,284.5 L331.5,285.1 L331.7,286.5 L331.9,287.2 L332.1,288.3 L332.3,289.3 L332.5,290.5 L332.6,291.4 L332.8,292.8 L333.0,293.8 L333.1,294.8 L333.3,296.0 L333.5,296.9 L333.6,298.0 L333.8,299.1 L333.9,300.0 L334.1,301.5 L334.2,302.1 L334.4,303.2 L334.6,304.6 L334.7,305.7 L334.9,306.6 L335.0,307.7 L335.3,308.5 L335.7,309.4 L336.0,310.6 L336.3,311.4 L336.6,312.3 L337.0,313.7 L337.3,314.2 L337.6,315.3 L337.9,316.5 L338.3,317.4 L338.6,318.1 L338.9,319.3 L339.2,320.2 L339.6,321.2 L339.9,322.3 L340.5,323.1 L341.2,323.8 L341.8,324.7 L342.4,325.4 L343.1,326.3 L343.7,327.7 L344.4,328.1 L345.0,328.4 L346.0,328.1 L347.0,330.3 L348.0,329.7 L349.0,330.4 L350.0,330.5 L351.0,331.2 L352.0,330.8 L353.0,331.8 L354.0,331.3 L355.0,331.3 L356.0,331.8 L357.0,331.1 L358.0,331.3 L359.0,331.9 L360.0,331.8 L361.0,331.9 L362.0,332.3 L363.0,331.6 L364.0,331.6 L365.0,330.8 L366.0,330.9 L367.0,331.2 L368.0,331.3 L369.0,332.1 L370.0,330.2 L371.0,330.8 L372.0,331.6 L373.0,330.9 L374.0,331.7 L375.0,330.1 L376.0,331.4 L377.0,330.5 L378.0,330.8 L379.0,329.6 L380.0,330.3 L381.0,331.2 L382.0,331.0 L383.0,330.6 L384.0,330.3 L385.0,329.4 L386.0,330.9 L387.0,330.3 L388.0,330.9 L389.0,330.6 L390.0,330.2 L391.0,331.2 L392.0,329.5 L393.0,331.3 L394.0,329.4 L395.0,331.3 L396.0,330.5 L397.0,330.3 L398.0,331.4 L399.0,330.5 L400.0,330.6 L401.0,329.6 L402.0,331.3 L403.0,331.0 L404.0,330.1 L405.0,329.9 L406.0,330.6 L407.0,331.8 L408.0,331.7 L409.0,330.9 L410.0,330.0 L411.0,331.8 L412.0,330.4 L413.0,331.6 L414.0,331.2 L415.0,332.2 L416.0,330.5 L417.0,332.0 L418.0,331.8 L419.0,330.3 L420.0,331.6 L421.0,331.0 L422.0,332.0 L423.0,332.6 L424.0,332.0 L425.0,331.7 L426.0,331.9 L427.0,331.2 L428.0,331.7 L429.0,331.0 L430.0,332.4 L431.0,330.9 L432.0,332.0 L433.0,331.2 L434.0,332.0 L435.0,330.9 L436.0,330.8 L437.0,332.2 L438.0,332.4 L439.0,332.7 L440.0,332.3 L441.0,333.0 L442.0,331.1 L443.0,332.2 L444.0,332.2 L445.0,331.2 L446.0,331.1 L447.0,331.3 L448.0,331.9 L449.0,332.5 L450.0,332.3 L451.0,332.0 L452.0,330.9 L453.0,332.3 L454.0,331.9 L455.0,331.1 L456.0,332.1 L457.0,331.3 L458.0,331.4 L459.0,331.7 L460.0,332.4 L461.0,331.0 L462.0,331.7 L463.0,331.3 L464.0,332.2 L465.0,332.5 L466.0,331.3 L467.0,332.3 L468.0,331.7 L469.0,331.2 L470.0,331.3 L471.0,331.9 L472.0,332.5 L473.0,332.0 L474.0,330.7 L475.0,332.4 L476.0,332.0 L477.0,331.6 L478.0,331.2 L479.0,331.7 L480.0,332.2 L481.0,331.0 L482.0,330.4 L482.9,331.7 L483.9,330.5 L484.9,329.4 L485.9,330.9 L486.9,328.8 L487.9,329.1 L488.9,329.4 L489.8,329.2 L490.8,329.4 L491.8,327.5 L492.7,327.9 L493.6,328.1 L494.5,326.8 L495.5,326.9 L496.4,325.9 L497.3,326.0 L498.2,326.0 L499.1,324.2 L500.0,324.2 L501.0,323.6 L501.9,323.4 L502.8,322.9 L503.7,322.5 L504.6,321.8 L505.4,321.1 L506.3,320.6 L507.2,319.5 L508.0,319.1 L508.9,318.2 L509.7,317.8 L510.6,317.2 L511.5,316.4 L512.3,316.0 L513.2,315.2 L513.9,314.3 L514.5,313.5 L515.2,312.9 L515.8,312.0 L516.5,311.0 L517.1,310.4 L517.8,309.9 L518.4,308.9 L519.1,308.2 L519.6,307.2 L520.1,306.1 L520.6,305.5 L521.1,304.4 L521.6,303.5 L522.0,302.8 L522.5,301.9 L523.0,300.7 L523.5,300.3 L524.0,298.9 L524.5,298.1 L525.0,297.3 L525.4,296.6 L525.8,295.5 L526.2,294.5 L526.6,293.4 L527.0,292.6 L527.4,291.3 L527.8,290.7 L528.2,289.2 L528.6,288.3 L529.0,287.6 L529.4,286.6 L529.8,285.6 L530.1,284.4 L530.5,283.7 L530.8,282.5 L531.1,281.3 L531.5,280.2 L531.8,279.7 L532.1,278.2 L532.5,277.2 L532.8,276.3 L533.2,275.6 L533.5,274.5 L533.8,273.5 L534.2,272.4 L534.5,271.1 L534.8,270.4 L535.0,269.1 L535.2,268.5 L535.5,267.5 L535.8,266.0 L536.0,265.3 L536.2,264.1 L536.5,263.0 L536.8,262.4 L537.0,261.1 L537.2,260.0 L537.5,259.2 L537.8,257.9 L538.0,257.1 L538.3,256.2 L538.6,255.3 L538.8,253.9 L539.1,253.3 L539.4,251.8 L539.7,250.9 L539.9,249.9 L540.2,248.8 L540.5,247.8 L540.7,247.1 L541.0,246.0 L541.2,244.9 L541.5,244.0 L541.7,242.8 L541.9,242.1 L542.2,241.3 L542.4,240.0 L542.7,239.0 L542.9,238.0 L543.1,237.0 L543.4,236.0 L543.6,234.9 L543.9,234.0 L544.1,233.2 L544.3,232.1 L544.6,230.9 L544.8,229.9 L545.1,229.3 L545.3,228.0 L545.5,227.3 L545.7,226.2 L545.9,225.2 L546.1,224.1 L546.3,223.2 L546.5,222.2 L546.7,221.2 L546.9,220.4 L547.1,219.0 L547.2,218.1 L547.4,217.5 L547.6,216.5 L547.8,215.5 L548.0,214.5 L548.2,213.1 L548.4,212.5 L548.6,211.2 L548.8,210.6 L549.0,209.3 L549.2,208.4 L549.4,207.3 L549.6,206.1 L549.8,205.3 L550.1,204.4 L550.3,203.1 L550.5,202.1 L550.7,201.0 L550.9,199.8 L551.0,198.9 L551.1,198.2 L551.3,197.2 L551.4,195.9 L551.5,194.9 L551.6,193.9 L551.8,193.2 L551.9,191.9 L552.0,190.9 L552.1,189.9 L552.3,188.8 L552.4,187.9 L552.5,186.9 L552.6,186.1 L552.7,185.3 L552.9,183.9 L553.0,182.9 L553.1,182.1 L553.2,180.8 L553.4,179.9 L553.5,179.1 L553.6,178.0 L553.7,177.0 L553.8,176.0 L554.0,174.8 L554.1,174.0 L554.2,172.9 L554.3,171.9 L554.5,170.9 L554.6,170.2 L554.7,168.8 L554.8,168.0 L555.0,166.9 L555.1,165.9 L555.2,165.2 L555.4,164.3 L555.6,163.3 L555.8,162.0 L555.9,161.1 L556.1,160.0 L556.3,158.8 L556.5,158.0 L556.7,157.1 L556.9,156.0 L557.0,155.1 L557.2,154.0 L557.4,152.9 L557.6,152.2 L557.8,151.0 L558.0,149.8 L558.1,149.1 L558.3,147.9 L558.5,147.0 L558.7,145.9 L558.9,145.1 L559.1,144.0 L559.2,142.9 L559.4,141.8 L559.6,141.0 L559.8,140.0 L560.0,138.9 L560.2,138.0 L560.3,136.8 L560.5,135.8 L560.7,134.7 L560.9,133.7 L561.1,132.6 L561.3,132.0 L561.5,130.8 L561.7,129.5 L561.9,128.6 L562.1,127.7 L562.3,126.8 L562.5,125.8 L562.7,124.8 L562.9,123.5 L563.1,122.6 L563.4,121.8 L563.6,120.5 L563.8,119.6 L564.0,118.3 L564.2,117.5 L564.4,116.5 L564.6,115.7 L564.8,114.7 L565.0,113.6 L565.2,112.4 L565.4,111.6 L565.6,110.6 L565.8,109.2 L566.0,108.3 L566.3,107.4 L566.5,106.2 L566.7,105.2 L567.0,104.4 L567.2,103.1 L567.4,102.3 L567.7,101.0 L567.9,100.2 L568.2,99.4 L568.4,97.9 L568.6,96.9 L568.9,96.3 L569.1,95.3 L569.3,94.1 L569.6,92.9 L569.8,91.9 L570.0,91.1 L570.2,90.1 L570.4,89.0 L570.6,88.1 L570.8,86.8 L571.0,86.0 L571.2,85.2 L571.4,84.3 L571.6,83.1 L571.8,82.2 L572.0,81.3 L572.2,80.1 L572.3,78.9 L572.5,77.9 L572.7,77.2 L572.9,76.0 L573.1,75.1 L573.3,73.9 L573.5,73.4 L573.7,72.0 L573.9,71.2 L574.1,70.2 L574.3,69.1 L574.5,68.0 L574.7,67.2 L574.9,66.1 L575.2,65.0 L575.4,64.1 L575.7,63.0 L575.9,62.5 L576.2,61.2 L576.4,60.5 L576.7,59.4 L576.9,58.6 L577.2,57.4 L577.4,56.3 L577.7,55.2 L578.0,54.5 L578.3,53.6 L578.7,52.6 L579.0,51.8 L579.3,50.4 L580.4,50.9 L581.5,51.1 L581.9,52.3 L582.2,53.0 L582.6,54.4 L582.9,55.0 L583.3,56.4 L583.6,57.3 L584.0,58.5 L584.3,59.4 L584.6,60.6 L584.8,61.6 L585.1,62.7 L585.4,63.7 L585.7,64.7 L585.9,65.7 L586.2,66.9 L586.5,68.2 L586.8,69.2 L587.2,69.8 L587.5,71.1 L587.9,71.8 L588.2,72.9 L588.6,74.2 L588.9,74.9 L589.3,75.8 L589.6,77.0 L589.9,78.0 L590.1,79.0 L590.4,80.2 L590.7,81.0 L590.9,81.9 L591.2,82.9 L591.4,84.0 L591.7,85.1 L592.0,86.0 L592.2,86.9 L592.5,87.9 L592.9,89.3 L593.2,90.5 L593.6,91.4 L594.0,92.6 L594.8,93.4 L595.7,94.3 L596.5,95.3 L596.8,96.6 L597.0,97.9 L597.2,98.8 L597.5,99.9 L597.8,101.1 L598.0,102.0 L598.1,103.0 L598.3,104.0 L598.4,105.3 L598.6,106.3 L598.7,107.3 L598.9,108.5 L599.0,109.6 L599.1,110.2 L599.3,111.3 L599.4,112.5 L599.6,113.6 L599.7,114.4 L599.8,115.5 L600.0,116.6 L600.1,117.5 L600.3,118.7 L600.4,119.4 L600.6,120.6 L600.7,121.8 L600.8,122.9 L601.0,123.7 L601.1,124.8 L601.3,125.9 L601.4,126.9 L601.6,127.8 L601.8,128.8 L602.0,129.8 L602.2,131.3 L602.4,132.3 L602.6,133.3 L602.8,134.4 L603.0,135.3 L603.2,136.3 L603.4,137.5 L603.6,138.5 L603.7,139.6 L603.9,140.8 L604.0,141.5 L604.2,142.5 L604.3,143.7 L604.5,144.8 L604.6,145.7 L604.8,146.7 L604.9,147.9 L605.1,149.0 L605.2,149.5 L605.4,151.0 L605.5,151.6 L605.7,152.9 L605.8,153.9 L606.0,155.1 L606.1,155.8 L606.3,156.7 L606.4,158.2 L606.6,158.9 L606.7,160.0 L606.9,161.0 L607.0,161.9 L607.2,162.8 L607.3,164.1 L607.5,165.0 L607.7,166.1 L607.8,167.4 L608.0,168.4 L608.1,169.1 L608.3,170.2 L608.4,171.1 L608.6,172.4 L608.7,173.2 L608.9,174.2 L609.0,175.7 L609.2,176.5 L609.4,177.7 L609.5,178.4 L609.7,179.4 L609.8,180.7 L610.0,181.8 L610.1,182.5 L610.3,183.7 L610.4,184.8 L610.6,185.8 L610.8,186.7 L610.9,187.8 L611.1,188.6 L611.2,189.7 L611.4,190.7 L611.5,192.1 L611.7,192.8 L611.8,194.0 L612.0,194.7 L612.1,196.1 L612.2,196.7 L612.4,198.1 L612.6,199.0 L612.7,200.2 L612.9,201.2 L613.1,201.8 L613.3,202.9 L613.5,204.0 L613.7,204.9 L613.9,206.4 L614.1,207.1 L614.3,208.4 L614.5,209.5 L614.7,210.4 L614.8,211.6 L615.0,212.4 L615.1,213.3 L615.3,214.6 L615.4,215.3 L615.6,216.4 L615.7,217.4 L615.9,218.5 L616.0,219.4 L616.2,220.7 L616.3,221.7 L616.5,222.6 L616.6,223.5 L616.8,224.8 L616.9,225.8 L617.1,226.3 L617.2,227.8 L617.4,228.4 L617.6,229.4 L617.9,230.5 L618.1,231.6 L618.3,232.7 L618.6,234.0 L618.8,234.6 L619.0,235.9 L619.3,236.8 L619.5,237.7 L619.8,239.1 L620.0,240.1 L620.2,240.9 L620.5,242.2 L620.7,243.0 L621.0,244.1 L621.4,245.2 L621.7,246.1 L622.0,246.9 L622.3,247.8 L622.7,249.0 L623.0,250.0 L623.3,250.9 L623.5,252.0 L623.8,252.7 L624.1,253.8 L624.3,254.9 L624.6,255.9 L624.9,257.0 L625.1,257.8 L625.4,258.8 L625.7,260.0 L625.9,260.8 L626.2,261.7 L626.5,262.9 L626.7,263.8 L627.0,264.9 L627.3,266.1 L627.5,267.0 L627.8,267.9 L628.1,269.1 L628.3,270.0 L628.6,270.8 L628.9,272.1 L629.2,272.7 L629.4,273.8 L629.7,275.0 L630.0,275.8 L630.3,277.1 L630.5,278.1 L630.8,278.9 L631.1,280.2 L631.4,280.9 L631.6,282.2 L631.9,283.1 L632.2,284.4 L632.4,285.1 L632.7,286.2 L632.9,287.4 L633.2,288.2 L633.4,289.4 L633.7,290.1 L634.0,291.1 L634.2,292.1 L634.5,293.4 L634.7,294.3 L635.0,295.4 L635.2,296.4 L635.5,297.6 L635.8,298.2 L636.1,299.2 L636.4,300.2 L636.7,301.5 L637.0,302.5 L637.2,303.1 L637.5,304.0 L637.8,305.5 L638.1,306.5 L638.4,307.1 L638.7,308.2 L639.0,309.0 L639.4,310.2 L639.8,311.1 L640.1,312.4 L640.5,313.2 L640.9,314.4 L641.2,315.3 L641.6,316.5 L642.0,317.7 L642.5,318.5 L643.0,319.8 L643.5,320.7 L644.0,321.4 L644.5,322.4 L645.0,323.7 L645.5,324.7 L646.3,325.2 L647.1,326.4 L647.9,326.9 L648.7,327.8 L649.5,328.8 L650.3,329.6 L651.2,329.7 L652.2,330.2 L653.1,330.7 L654.1,331.4 L655.0,332.0 L656.1,332.0 L657.2,332.1 L658.2,332.3 L659.3,332.2 L660.4,332.2 L661.5,332.5 L662.6,332.6 L663.7,332.8 L664.7,332.9 L665.8,332.8 L666.9,332.8" fill="none" stroke="#ffc000" stroke-width="3.3" stroke-linejoin="round" stroke-linecap="round" />
<circle cx="79.7" cy="328.9" r="2.95" fill="none" stroke="#000" stroke-width="1.5"/><circle cx="86.8" cy="322.6" r="2.95" fill="none" stroke="#000" stroke-width="1.5"/><circle cx="92.5" cy="315.8" r="2.95" fill="none" stroke="#000" stroke-width="1.5"/><circle cx="97.2" cy="307.8" r="2.95" fill="none" stroke="#000" stroke-width="1.5"/><circle cx="104.2" cy="303.3" r="2.95" fill="none" stroke="#000" stroke-width="1.5"/><circle cx="111.9" cy="306.0" r="2.95" fill="none" stroke="#000" stroke-width="1.5"/><circle cx="119.1" cy="306.2" r="2.95" fill="none" stroke="#000" stroke-width="1.5"/><circle cx="126.5" cy="300.4" r="2.95" fill="none" stroke="#000" stroke-width="1.5"/><circle cx="132.9" cy="293.6" r="2.95" fill="none" stroke="#000" stroke-width="1.5"/><circle cx="138.8" cy="286.7" r="2.95" fill="none" stroke="#000" stroke-width="1.5"/><circle cx="146.3" cy="278.3" r="2.95" fill="none" stroke="#000" stroke-width="1.5"/><circle cx="151.7" cy="271.7" r="2.95" fill="none" stroke="#000" stroke-width="1.5"/><circle cx="158.5" cy="264.7" r="2.95" fill="none" stroke="#000" stroke-width="1.5"/><circle cx="166.1" cy="259.2" r="2.95" fill="none" stroke="#000" stroke-width="1.5"/><circle cx="173.4" cy="260.4" r="2.95" fill="none" stroke="#000" stroke-width="1.5"/><circle cx="180.7" cy="264.3" r="2.95" fill="none" stroke="#000" stroke-width="1.5"/><circle cx="187.7" cy="269.7" r="2.95" fill="none" stroke="#000" stroke-width="1.5"/><circle cx="192.6" cy="277.4" r="2.95" fill="none" stroke="#000" stroke-width="1.5"/><circle cx="197.0" cy="285.9" r="2.95" fill="none" stroke="#000" stroke-width="1.5"/><circle cx="201.8" cy="295.7" r="2.95" fill="none" stroke="#000" stroke-width="1.5"/><circle cx="206.9" cy="305.2" r="2.95" fill="none" stroke="#000" stroke-width="1.5"/><circle cx="212.5" cy="313.2" r="2.95" fill="none" stroke="#000" stroke-width="1.5"/><circle cx="218.9" cy="319.3" r="2.95" fill="none" stroke="#000" stroke-width="1.5"/><circle cx="226.2" cy="322.3" r="2.95" fill="none" stroke="#000" stroke-width="1.5"/><circle cx="233.9" cy="323.1" r="2.95" fill="none" stroke="#000" stroke-width="1.5"/><circle cx="241.2" cy="323.4" r="2.95" fill="none" stroke="#000" stroke-width="1.5"/><circle cx="248.6" cy="323.6" r="2.95" fill="none" stroke="#000" stroke-width="1.5"/><circle cx="256.4" cy="322.8" r="2.95" fill="none" stroke="#000" stroke-width="1.5"/><circle cx="263.7" cy="322.8" r="2.95" fill="none" stroke="#000" stroke-width="1.5"/><circle cx="271.0" cy="322.1" r="2.95" fill="none" stroke="#000" stroke-width="1.5"/><circle cx="278.6" cy="321.8" r="2.95" fill="none" stroke="#000" stroke-width="1.5"/><circle cx="285.9" cy="321.4" r="2.95" fill="none" stroke="#000" stroke-width="1.5"/><circle cx="293.2" cy="320.7" r="2.95" fill="none" stroke="#000" stroke-width="1.5"/><circle cx="300.8" cy="319.2" r="2.95" fill="none" stroke="#000" stroke-width="1.5"/><circle cx="307.5" cy="314.5" r="2.95" fill="none" stroke="#000" stroke-width="1.5"/><circle cx="312.4" cy="304.4" r="2.95" fill="none" stroke="#000" stroke-width="1.5"/><circle cx="314.0" cy="299.3" r="2.95" fill="none" stroke="#000" stroke-width="1.5"/><circle cx="316.4" cy="285.5" r="2.95" fill="none" stroke="#000" stroke-width="1.5"/><circle cx="316.9" cy="279.3" r="2.95" fill="none" stroke="#000" stroke-width="1.5"/><circle cx="321.9" cy="277.3" r="2.95" fill="none" stroke="#000" stroke-width="1.5"/><circle cx="323.6" cy="287.2" r="2.95" fill="none" stroke="#000" stroke-width="1.5"/><circle cx="324.9" cy="294.2" r="2.95" fill="none" stroke="#000" stroke-width="1.5"/><circle cx="326.0" cy="301.7" r="2.95" fill="none" stroke="#000" stroke-width="1.5"/><circle cx="328.7" cy="309.9" r="2.95" fill="none" stroke="#000" stroke-width="1.5"/><circle cx="331.1" cy="318.9" r="2.95" fill="none" stroke="#000" stroke-width="1.5"/><circle cx="336.7" cy="325.3" r="2.95" fill="none" stroke="#000" stroke-width="1.5"/><circle cx="343.5" cy="329.1" r="2.95" fill="none" stroke="#000" stroke-width="1.5"/><circle cx="351.4" cy="329.9" r="2.95" fill="none" stroke="#000" stroke-width="1.5"/><circle cx="359.0" cy="329.6" r="2.95" fill="none" stroke="#000" stroke-width="1.5"/><circle cx="366.3" cy="329.0" r="2.95" fill="none" stroke="#000" stroke-width="1.5"/><circle cx="373.9" cy="327.4" r="2.95" fill="none" stroke="#000" stroke-width="1.5"/><circle cx="381.2" cy="326.2" r="2.95" fill="none" stroke="#000" stroke-width="1.5"/><circle cx="388.5" cy="325.2" r="2.95" fill="none" stroke="#000" stroke-width="1.5"/><circle cx="395.9" cy="325.9" r="2.95" fill="none" stroke="#000" stroke-width="1.5"/><circle cx="403.5" cy="326.7" r="2.95" fill="none" stroke="#000" stroke-width="1.5"/><circle cx="410.8" cy="328.4" r="2.95" fill="none" stroke="#000" stroke-width="1.5"/><circle cx="418.1" cy="329.9" r="2.95" fill="none" stroke="#000" stroke-width="1.5"/><circle cx="425.4" cy="330.3" r="2.95" fill="none" stroke="#000" stroke-width="1.5"/><circle cx="433.0" cy="331.0" r="2.95" fill="none" stroke="#000" stroke-width="1.5"/><circle cx="439.3" cy="331.5" r="2.95" fill="none" stroke="#000" stroke-width="1.5"/><circle cx="447.5" cy="331.9" r="2.95" fill="none" stroke="#000" stroke-width="1.5"/><circle cx="455.1" cy="332.2" r="2.95" fill="none" stroke="#000" stroke-width="1.5"/><circle cx="462.4" cy="332.2" r="2.95" fill="none" stroke="#000" stroke-width="1.5"/><circle cx="469.7" cy="331.9" r="2.95" fill="none" stroke="#000" stroke-width="1.5"/><circle cx="477.4" cy="331.6" r="2.95" fill="none" stroke="#000" stroke-width="1.5"/><circle cx="484.7" cy="331.2" r="2.95" fill="none" stroke="#000" stroke-width="1.5"/><circle cx="492.0" cy="329.4" r="2.95" fill="none" stroke="#000" stroke-width="1.5"/><circle cx="499.8" cy="326.5" r="2.95" fill="none" stroke="#000" stroke-width="1.5"/><circle cx="507.1" cy="322.4" r="2.95" fill="none" stroke="#000" stroke-width="1.5"/><circle cx="513.9" cy="315.1" r="2.95" fill="none" stroke="#000" stroke-width="1.5"/><circle cx="520.0" cy="309.0" r="2.95" fill="none" stroke="#000" stroke-width="1.5"/><circle cx="523.2" cy="300.3" r="2.95" fill="none" stroke="#000" stroke-width="1.5"/><circle cx="524.6" cy="298.0" r="2.95" fill="none" stroke="#000" stroke-width="1.5"/><circle cx="528.8" cy="284.5" r="2.95" fill="none" stroke="#000" stroke-width="1.5"/><circle cx="531.5" cy="275.8" r="2.95" fill="none" stroke="#000" stroke-width="1.5"/><circle cx="534.0" cy="265.6" r="2.95" fill="none" stroke="#000" stroke-width="1.5"/><circle cx="536.5" cy="254.3" r="2.95" fill="none" stroke="#000" stroke-width="1.5"/><circle cx="539.1" cy="240.3" r="2.95" fill="none" stroke="#000" stroke-width="1.5"/><circle cx="540.2" cy="233.7" r="2.95" fill="none" stroke="#000" stroke-width="1.5"/><circle cx="541.0" cy="230.9" r="2.95" fill="none" stroke="#000" stroke-width="1.5"/><circle cx="542.5" cy="221.0" r="2.95" fill="none" stroke="#000" stroke-width="1.5"/><circle cx="543.4" cy="214.0" r="2.95" fill="none" stroke="#000" stroke-width="1.5"/><circle cx="544.4" cy="204.1" r="2.95" fill="none" stroke="#000" stroke-width="1.5"/><circle cx="545.2" cy="196.1" r="2.95" fill="none" stroke="#000" stroke-width="1.5"/><circle cx="546.2" cy="187.8" r="2.95" fill="none" stroke="#000" stroke-width="1.5"/><circle cx="548.0" cy="177.9" r="2.95" fill="none" stroke="#000" stroke-width="1.5"/><circle cx="549.0" cy="169.6" r="2.95" fill="none" stroke="#000" stroke-width="1.5"/><circle cx="550.3" cy="160.3" r="2.95" fill="none" stroke="#000" stroke-width="1.5"/><circle cx="551.7" cy="152.0" r="2.95" fill="none" stroke="#000" stroke-width="1.5"/><circle cx="553.1" cy="144.7" r="2.95" fill="none" stroke="#000" stroke-width="1.5"/><circle cx="554.2" cy="136.4" r="2.95" fill="none" stroke="#000" stroke-width="1.5"/><circle cx="557.6" cy="119.9" r="2.95" fill="none" stroke="#000" stroke-width="1.5"/><circle cx="558.6" cy="114.8" r="2.95" fill="none" stroke="#000" stroke-width="1.5"/><circle cx="561.1" cy="104.6" r="2.95" fill="none" stroke="#000" stroke-width="1.5"/><circle cx="563.6" cy="94.7" r="2.95" fill="none" stroke="#000" stroke-width="1.5"/><circle cx="565.8" cy="84.5" r="2.95" fill="none" stroke="#000" stroke-width="1.5"/><circle cx="568.3" cy="74.0" r="2.95" fill="none" stroke="#000" stroke-width="1.5"/><circle cx="570.8" cy="64.4" r="2.95" fill="none" stroke="#000" stroke-width="1.5"/><circle cx="573.5" cy="55.7" r="2.95" fill="none" stroke="#000" stroke-width="1.5"/><circle cx="579.4" cy="51.1" r="2.95" fill="none" stroke="#000" stroke-width="1.5"/><circle cx="581.9" cy="58.5" r="2.95" fill="none" stroke="#000" stroke-width="1.5"/><circle cx="584.0" cy="66.9" r="2.95" fill="none" stroke="#000" stroke-width="1.5"/><circle cx="585.3" cy="74.4" r="2.95" fill="none" stroke="#000" stroke-width="1.5"/><circle cx="586.3" cy="81.4" r="2.95" fill="none" stroke="#000" stroke-width="1.5"/><circle cx="587.5" cy="88.9" r="2.95" fill="none" stroke="#000" stroke-width="1.5"/><circle cx="588.6" cy="97.3" r="2.95" fill="none" stroke="#000" stroke-width="1.5"/><circle cx="589.4" cy="104.1" r="2.95" fill="none" stroke="#000" stroke-width="1.5"/><circle cx="589.9" cy="111.2" r="2.95" fill="none" stroke="#000" stroke-width="1.5"/><circle cx="591.9" cy="117.5" r="2.95" fill="none" stroke="#000" stroke-width="1.5"/><circle cx="593.0" cy="126.3" r="2.95" fill="none" stroke="#000" stroke-width="1.5"/><circle cx="593.7" cy="134.5" r="2.95" fill="none" stroke="#000" stroke-width="1.5"/><circle cx="594.4" cy="141.4" r="2.95" fill="none" stroke="#000" stroke-width="1.5"/><circle cx="595.4" cy="149.3" r="2.95" fill="none" stroke="#000" stroke-width="1.5"/><circle cx="596.5" cy="157.9" r="2.95" fill="none" stroke="#000" stroke-width="1.5"/><circle cx="597.9" cy="166.5" r="2.95" fill="none" stroke="#000" stroke-width="1.5"/><circle cx="599.2" cy="174.3" r="2.95" fill="none" stroke="#000" stroke-width="1.5"/><circle cx="600.6" cy="182.3" r="2.95" fill="none" stroke="#000" stroke-width="1.5"/><circle cx="601.7" cy="192.6" r="2.95" fill="none" stroke="#000" stroke-width="1.5"/><circle cx="602.7" cy="197.0" r="2.95" fill="none" stroke="#000" stroke-width="1.5"/><circle cx="602.7" cy="205.9" r="2.95" fill="none" stroke="#000" stroke-width="1.5"/><circle cx="605.0" cy="215.9" r="2.95" fill="none" stroke="#000" stroke-width="1.5"/><circle cx="605.4" cy="222.9" r="2.95" fill="none" stroke="#000" stroke-width="1.5"/><circle cx="607.2" cy="233.7" r="2.95" fill="none" stroke="#000" stroke-width="1.5"/><circle cx="608.4" cy="240.3" r="2.95" fill="none" stroke="#000" stroke-width="1.5"/><circle cx="609.7" cy="247.8" r="2.95" fill="none" stroke="#000" stroke-width="1.5"/><circle cx="611.0" cy="255.8" r="2.95" fill="none" stroke="#000" stroke-width="1.5"/><circle cx="612.1" cy="263.3" r="2.95" fill="none" stroke="#000" stroke-width="1.5"/><circle cx="613.4" cy="270.8" r="2.95" fill="none" stroke="#000" stroke-width="1.5"/><circle cx="614.4" cy="278.7" r="2.95" fill="none" stroke="#000" stroke-width="1.5"/><circle cx="615.3" cy="286.5" r="2.95" fill="none" stroke="#000" stroke-width="1.5"/><circle cx="616.2" cy="293.7" r="2.95" fill="none" stroke="#000" stroke-width="1.5"/><circle cx="617.7" cy="301.2" r="2.95" fill="none" stroke="#000" stroke-width="1.5"/><circle cx="619.0" cy="310.2" r="2.95" fill="none" stroke="#000" stroke-width="1.5"/><circle cx="620.3" cy="317.1" r="2.95" fill="none" stroke="#000" stroke-width="1.5"/><circle cx="622.8" cy="324.6" r="2.95" fill="none" stroke="#000" stroke-width="1.5"/><circle cx="629.7" cy="330.8" r="2.95" fill="none" stroke="#000" stroke-width="1.5"/><circle cx="636.8" cy="332.1" r="2.95" fill="none" stroke="#000" stroke-width="1.5"/><circle cx="644.3" cy="333.0" r="2.95" fill="none" stroke="#000" stroke-width="1.5"/><circle cx="651.8" cy="333.4" r="2.95" fill="none" stroke="#000" stroke-width="1.5"/><circle cx="659.3" cy="333.4" r="2.95" fill="none" stroke="#000" stroke-width="1.5"/><circle cx="664.9" cy="333.4" r="2.95" fill="none" stroke="#000" stroke-width="1.5"/>
</g>
<rect x="77.5" y="6.0" width="590.3" height="329.1" fill="none" stroke="#000" stroke-width="2.3"/>
<line x1="75.0" y1="335.1" x2="77.5" y2="335.1" stroke="#000" stroke-width="1.6"/>
<text x="51.01" y="341.20" font-size="15.6" >0.0</text>
<line x1="75.0" y1="269.3" x2="77.5" y2="269.3" stroke="#000" stroke-width="1.6"/>
<text x="51.01" y="275.38" font-size="15.6" >0.2</text>
<line x1="75.0" y1="203.5" x2="77.5" y2="203.5" stroke="#000" stroke-width="1.6"/>
<text x="51.01" y="209.56" font-size="15.6" >0.4</text>
<line x1="75.0" y1="137.6" x2="77.5" y2="137.6" stroke="#000" stroke-width="1.6"/>
<text x="51.01" y="143.74" font-size="15.6" >0.6</text>
<line x1="75.0" y1="71.8" x2="77.5" y2="71.8" stroke="#000" stroke-width="1.6"/>
<text x="51.01" y="77.92" font-size="15.6" >0.8</text>
<line x1="75.0" y1="6.0" x2="77.5" y2="6.0" stroke="#000" stroke-width="1.6"/>
<path d="M763,0 L583,0 L583,1098 Q518,1039 412,980 Q307,920 223,890 L223,1057 Q374,1125 487,1222 Q600,1318 647,1409 L763,1409 Z" transform="translate(51.01,12.10) scale(0.00762,-0.00762)" fill="#000"/><text x="59.69" y="12.10" font-size="15.6" >.0</text>
<rect x="89.3" y="20.6" width="101" height="79.0" rx="2.5" fill="#fff" fill-opacity="0.8" stroke="#dcdcdc" stroke-width="1"/>
<line x1="92.8" y1="30.8" x2="122.6" y2="30.8" stroke="#ff0000" stroke-width="3.7"/>
<text x="130.8" y="35.5" font-size="13.35">HotPP</text>
<line x1="92.8" y1="49.7" x2="122.6" y2="49.7" stroke="#4472c4" stroke-width="2.2"/>
<text x="130.8" y="54.4" font-size="13.35">MB-pol</text>
<line x1="92.8" y1="68.6" x2="122.6" y2="68.6" stroke="#ffc000" stroke-width="2.2"/>
<text x="130.8" y="73.3" font-size="13.35">DeePMD</text>
<circle cx="107.6" cy="87.8" r="5.6" fill="none" stroke="#000" stroke-width="1.5"/>
<text x="130.8" y="92.2" font-size="13.35">Expt</text>
<line x1="151.4" y1="688.8" x2="151.4" y2="359.3" stroke="#7a7a7a" stroke-width="1" stroke-dasharray="3.7 1.6"/>
<line x1="225.2" y1="688.8" x2="225.2" y2="359.3" stroke="#7a7a7a" stroke-width="1" stroke-dasharray="3.7 1.6"/>
<line x1="299.0" y1="688.8" x2="299.0" y2="359.3" stroke="#7a7a7a" stroke-width="1" stroke-dasharray="3.7 1.6"/>
<line x1="372.7" y1="688.8" x2="372.7" y2="359.3" stroke="#7a7a7a" stroke-width="1" stroke-dasharray="3.7 1.6"/>
<line x1="446.5" y1="688.8" x2="446.5" y2="359.3" stroke="#7a7a7a" stroke-width="1" stroke-dasharray="3.7 1.6"/>
<line x1="520.3" y1="688.8" x2="520.3" y2="359.3" stroke="#7a7a7a" stroke-width="1" stroke-dasharray="3.7 1.6"/>
<line x1="594.0" y1="688.8" x2="594.0" y2="359.3" stroke="#7a7a7a" stroke-width="1" stroke-dasharray="3.7 1.6"/>
<g clip-path="url(#cb)">
<path d="M480.0,687.0 L481.3,687.1 L482.5,687.1 L483.8,686.9 L485.1,687.0 L486.4,686.9 L487.6,686.9 L488.9,686.7 L490.2,686.6 L491.4,686.7 L492.7,686.8 L494.0,686.6 L495.3,686.7 L496.5,686.6 L497.8,686.7 L499.0,686.6 L500.3,686.2 L501.5,686.2 L502.7,685.8 L504.0,685.8 L505.2,685.6 L506.4,685.2 L507.6,685.2 L508.9,685.0 L510.1,684.9 L511.2,684.1 L512.4,683.7 L513.7,683.2 L514.8,682.5 L515.9,681.9 L517.0,681.2 L518.3,680.9 L519.4,680.2 L520.7,679.7 L521.3,678.6 L522.3,677.8 L523.1,676.8 L523.9,675.9 L524.5,674.8 L525.4,673.9 L526.2,672.9 L527.1,672.1 L527.8,671.1 L528.8,670.2 L529.5,669.2 L530.4,668.3 L531.2,667.4 L531.7,666.1 L532.4,665.1 L533.1,664.0 L533.7,662.8 L534.2,661.7 L534.9,660.6 L535.6,659.5 L536.1,658.3 L536.9,657.3 L537.5,656.1 L538.1,655.0 L538.5,653.8 L539.1,652.8 L539.7,651.7 L540.0,650.5 L540.5,649.4 L541.1,648.4 L541.5,647.2 L541.9,646.1 L542.3,645.0 L543.0,643.9 L543.4,642.8 L543.8,641.6 L544.2,640.4 L544.7,639.3 L545.2,638.2 L545.5,636.9 L545.9,635.8 L546.6,634.7 L547.0,633.5 L547.2,632.2 L547.8,631.1 L548.2,630.0 L548.6,628.8 L548.9,627.6 L549.3,626.4 L549.4,625.2 L549.7,624.0 L549.9,622.8 L550.2,621.6 L550.4,620.4 L550.7,619.2 L551.0,618.0 L551.4,616.9 L551.6,615.7 L552.0,614.5 L552.3,613.3 L552.5,612.1 L552.6,610.9 L553.1,609.7 L553.2,608.4 L553.7,607.3 L554.0,606.1 L554.3,604.8 L554.5,603.6 L554.7,602.4 L555.0,601.2 L555.5,600.0 L555.7,598.7 L556.1,597.6 L556.3,596.3 L556.6,595.1 L556.9,593.9 L557.4,592.7 L557.6,591.5 L557.9,590.3 L558.2,589.1 L558.5,587.9 L558.8,586.6 L559.1,585.4 L559.5,584.2 L559.8,583.0 L559.9,581.8 L560.2,580.6 L560.5,579.3 L560.9,578.1 L561.1,576.9 L561.6,575.7 L561.8,574.5 L562.1,573.3 L562.5,572.1 L562.6,570.8 L563.0,569.6 L563.4,568.4 L563.5,567.1 L563.8,565.9 L564.1,564.6 L564.5,563.5 L564.7,562.2 L564.9,560.9 L565.2,559.7 L565.6,558.5 L565.8,557.3 L566.1,556.0 L566.3,554.8 L566.7,553.6 L566.9,552.4 L567.2,551.1 L567.3,549.9 L567.6,548.7 L567.8,547.5 L568.1,546.2 L568.3,545.0 L568.4,543.7 L568.7,542.5 L569.2,541.4 L569.3,540.1 L569.5,538.9 L569.8,537.7 L569.9,536.4 L570.1,535.2 L570.5,533.9 L570.8,532.7 L570.8,531.4 L571.2,530.1 L571.6,528.9 L571.7,527.6 L572.1,526.4 L572.1,525.0 L572.6,523.8 L572.8,522.6 L572.8,521.2 L573.2,520.0 L573.5,518.8 L573.5,517.5 L573.9,516.3 L574.1,515.1 L574.3,513.9 L574.4,512.6 L574.5,511.4 L574.9,510.2 L575.0,508.9 L575.3,507.7 L575.4,506.4 L575.6,505.2 L575.9,504.0 L576.2,502.8 L576.4,501.6 L576.5,500.3 L576.6,499.1 L577.0,497.9 L577.1,496.7 L577.5,495.5 L577.7,494.3 L577.7,493.1 L578.1,491.9 L578.2,490.7 L578.5,489.5 L578.7,488.3 L579.0,487.1 L579.1,485.9 L579.4,484.8 L579.6,483.5 L579.8,482.3 L580.0,481.2 L580.4,480.0 L580.5,478.8 L580.7,477.6 L581.0,476.4 L581.1,475.2 L581.6,474.0 L581.8,472.8 L581.8,471.6 L582.0,470.4 L582.3,469.2 L582.5,467.9 L582.7,466.7 L582.9,465.5 L583.2,464.3 L583.2,463.1 L583.5,461.9 L583.6,460.6 L583.9,459.4 L584.0,458.2 L584.4,457.0 L584.6,455.8 L584.8,454.6 L584.9,453.3 L585.1,452.1 L585.2,450.9 L585.6,449.7 L585.8,448.5 L585.9,447.2 L586.0,446.0 L586.4,444.8 L586.6,443.6 L586.9,442.4 L587.0,441.2 L587.2,440.0 L587.4,438.8 L587.6,437.6 L587.8,436.4 L588.1,435.2 L588.5,434.1 L588.7,432.9 L589.1,431.7 L589.1,430.5 L589.3,429.3 L589.8,428.1 L589.8,426.9 L590.4,425.7 L591.0,424.5 L591.4,423.3 L592.0,422.2 L592.5,420.9 L592.8,419.7 L593.5,418.5 L594.0,417.4 L594.4,416.1 L595.6,416.6 L597.2,416.7 L597.7,418.4 L598.4,419.3 L599.6,419.9 L600.3,420.9 L601.2,421.8 L602.7,422.2 L603.5,423.2 L603.3,424.9 L604.1,425.9 L605.5,426.5 L606.5,427.4 L607.5,428.2 L607.7,429.7 L607.4,431.3 L609.2,432.0 L609.6,433.3 L610.7,434.3 L610.4,435.8 L611.6,436.7 L611.0,438.3 L611.7,439.4 L612.2,440.6 L612.9,441.7 L613.2,442.9 L612.6,444.4 L612.9,445.6 L613.7,446.7 L615.0,447.7 L615.3,449.0 L615.4,450.3 L614.9,451.8 L615.1,453.1 L616.7,454.0 L616.4,455.4 L617.2,456.5 L617.4,457.8 L618.2,458.9 L617.7,460.4 L618.0,461.6 L618.1,462.9 L619.3,463.8 L619.7,465.0 L619.8,466.3 L621.1,467.2 L620.2,468.8 L620.7,469.9 L622.0,470.9 L622.0,472.2 L622.1,473.4 L621.8,474.8 L622.4,475.9 L623.5,476.9 L622.5,478.4 L622.8,479.6 L623.3,480.8 L624.2,481.8 L624.5,483.0 L625.0,484.2 L624.2,485.6 L625.4,486.7 L624.8,488.1 L626.5,489.0 L627.0,490.2 L626.5,491.6 L627.3,492.8 L627.4,494.0 L628.1,495.2 L628.2,496.4 L627.9,497.8 L628.8,498.9 L628.8,500.2 L628.4,501.5 L629.2,502.6 L629.3,503.8 L629.4,505.0 L629.8,506.2 L629.5,507.5 L629.3,508.7 L630.8,509.7 L630.1,511.1 L630.3,512.3 L629.9,513.6 L630.4,514.7 L631.4,515.8 L631.0,517.1 L630.7,518.3 L630.8,519.5 L631.3,520.7 L632.7,521.7 L632.5,523.0 L632.6,524.3 L633.1,525.4 L632.6,526.8 L633.4,528.0 L632.8,529.4 L634.8,530.2 L633.7,531.8 L635.2,532.7 L634.7,534.1 L635.6,535.2 L635.5,536.6 L635.4,537.8 L635.0,539.1 L636.9,540.0 L636.5,541.3 L637.3,542.4 L636.4,543.8 L637.8,544.7 L637.9,545.9 L637.1,547.4 L638.7,548.3 L637.5,549.8 L638.8,550.7 L637.8,552.2 L639.6,553.0 L639.9,554.2 L639.5,555.5 L640.1,556.6 L639.7,558.0 L640.6,559.0 L640.8,560.2 L641.6,561.3 L641.8,562.5 L642.2,563.6 L641.7,565.0 L641.2,566.3 L642.1,567.4 L642.7,568.5 L642.7,569.7 L642.5,571.0 L642.5,572.2 L644.2,573.1 L643.5,574.5 L644.4,575.6 L643.5,577.0 L644.1,578.1 L644.6,579.2 L644.7,580.4 L644.8,581.7 L646.3,582.6 L646.1,583.9 L646.8,585.0 L646.8,586.2 L645.7,587.6 L646.6,588.7 L647.4,589.8 L647.5,591.0 L647.5,592.2 L648.4,593.3 L647.3,594.7 L648.3,595.7 L649.1,596.8 L648.5,598.2 L648.9,599.3 L648.6,600.6 L649.7,601.6 L650.0,602.8 L649.8,604.1 L650.3,605.2 L651.0,606.3 L650.3,607.8 L650.3,609.0 L650.7,610.2 L651.3,611.3 L651.9,612.4 L651.6,613.7 L652.9,614.7 L653.4,615.8 L653.5,617.0 L653.3,618.4 L654.1,619.4 L654.0,620.7 L653.7,622.0 L654.3,623.1 L655.4,624.1 L655.9,625.3 L656.4,626.4 L656.7,627.6 L656.7,628.9 L656.2,630.3 L656.4,631.6 L657.5,632.5 L658.4,633.5 L657.9,635.0 L657.5,636.4 L659.5,637.1 L658.8,638.6 L658.4,639.9 L659.9,640.8 L659.7,642.1 L659.6,643.4 L660.2,644.5 L661.3,645.4 L660.6,646.9 L661.2,648.0 L661.4,649.2 L661.8,650.4 L661.7,651.6 L662.4,652.7 L662.1,654.0 L663.8,654.9 L664.2,656.0 L664.3,657.2 L664.0,658.6 L663.9,659.9 L663.9,661.2 L665.8,662.0 L666.1,663.1 L665.7,664.5 L665.5,665.8 L666.3,666.9 L666.8,668.0 L667.2,669.2 L666.6,670.6 L667.1,671.8 L667.1,673.4 L668.5,674.5 L669.0,676.0" fill="none" stroke="#00b0f0" stroke-width="2.4" stroke-linejoin="round" stroke-linecap="round" />
<path d="M78.0,687.0 L90.0,686.3 L100.0,685.8 L120.0,685.6 L150.0,685.5 L180.0,685.5 L200.0,685.6 L212.0,685.9 L225.0,686.4 L300.0,686.4 L308.0,686.0 L313.0,685.3 L318.0,684.9 L323.0,685.0 L328.0,685.8 L334.0,686.4 L390.0,686.3 L400.0,685.8 L420.0,685.8 L430.0,686.3 L440.0,686.6 L470.0,685.8 L478.8,685.0 L487.5,683.2 L496.3,681.0 L505.0,678.4 L512.0,675.8 L516.4,673.1 L522.3,667.3 L529.3,658.5 L534.6,649.8 L539.9,639.3 L544.2,628.8 L546.9,620.0 L549.7,610.9 L554.2,595.8 L558.8,580.6 L562.6,565.5 L565.6,550.3 L567.9,535.2 L570.2,520.0 L571.1,516.4 L574.7,498.5 L578.3,480.6 L581.9,462.7 L583.6,444.8 L586.3,426.9 L589.6,412.5 L593.5,423.3 L598.0,435.8 L602.4,450.1 L604.2,471.6 L606.0,489.5 L608.7,507.4 L611.4,525.3 L612.8,543.7 L616.3,567.4 L621.1,591.1 L624.6,610.0 L629.4,633.7 L634.1,657.4 L637.7,671.7 L641.2,681.1 L649.5,684.7 L667.0,685.4" fill="none" stroke="#ff0000" stroke-width="3.2" stroke-linejoin="round" stroke-linecap="round" />
<path d="M92.0,686.0 L100.0,685.7 L120.0,685.6 L150.0,685.5 L180.0,685.5 L200.0,685.6 L212.0,685.9" fill="none" stroke="#ff0000" stroke-width="4.8" stroke-linejoin="round" stroke-linecap="round" />
<path d="M78.0,688.5 L78.9,688.4 L79.8,688.7 L80.7,688.3 L81.6,688.6 L82.5,688.5 L83.4,688.3 L84.3,688.6 L85.2,688.3 L86.1,688.6 L87.0,688.3 L87.9,688.4 L88.8,688.6 L89.7,688.8 L90.6,688.4 L91.5,688.4 L92.4,688.7 L93.3,688.9 L94.2,688.6 L95.1,688.5 L96.0,688.9 L97.0,688.3 L97.9,688.8 L98.8,688.5 L99.7,688.4 L100.6,688.4 L101.5,688.5 L102.4,688.8 L103.3,688.4 L104.2,688.6 L105.1,688.7 L106.0,688.5 L106.9,688.6 L107.8,688.3 L108.7,688.3 L109.6,688.4 L110.5,688.7 L111.4,688.6 L112.3,688.5 L113.2,688.7 L114.1,688.6 L115.0,688.5 L115.9,688.8 L116.8,688.7 L117.7,688.4 L118.6,688.6 L119.5,688.6 L120.4,688.8 L121.3,688.7 L122.2,688.5 L123.1,688.9 L124.0,688.4 L124.9,688.6 L125.8,688.8 L126.7,688.4 L127.6,688.6 L128.5,688.3 L129.4,688.7 L130.3,688.8 L131.2,688.6 L132.1,688.8 L133.0,688.5 L134.0,688.7 L134.9,688.7 L135.8,688.6 L136.7,688.6 L137.6,688.8 L138.5,688.9 L139.4,688.6 L140.3,688.7 L141.2,688.3 L142.1,688.7 L143.0,688.7 L143.9,688.9 L144.8,688.8 L145.7,688.5 L146.6,688.5 L147.5,688.7 L148.4,688.3 L149.3,688.6 L150.2,688.4 L151.1,688.4 L152.0,688.3 L152.9,688.8 L153.8,688.4 L154.7,688.4 L155.6,688.5 L156.5,688.8 L157.4,688.3 L158.3,688.6 L159.2,688.6 L160.1,688.8 L161.0,688.8 L161.9,688.8 L162.8,688.5 L163.7,688.5 L164.6,688.5 L165.5,688.8 L166.4,688.9 L167.3,688.4 L168.2,688.4 L169.1,688.4 L170.0,688.4 L171.0,688.6 L171.9,688.7 L172.8,688.5 L173.7,688.3 L174.6,688.6 L175.5,688.5 L176.4,688.6 L177.3,688.9 L178.2,688.7 L179.1,688.6 L180.0,688.7 L180.9,688.7 L181.8,688.3 L182.7,688.8 L183.6,688.8 L184.5,688.8 L185.4,688.8 L186.3,688.5 L187.2,688.5 L188.1,688.4 L189.0,688.7 L189.9,688.3 L190.8,688.3 L191.7,688.4 L192.6,688.4 L193.5,688.5 L194.4,688.3 L195.3,688.3 L196.2,688.4 L197.1,688.4 L198.0,688.5 L198.9,688.3 L199.8,688.8 L200.7,688.7 L201.6,688.4 L202.5,688.5 L203.4,688.5 L204.3,688.5 L205.2,688.4 L206.1,688.8 L207.0,688.9 L208.0,688.6 L208.9,688.6 L209.8,688.4 L210.7,688.4 L211.6,688.5 L212.5,688.5 L213.4,688.8 L214.3,688.4 L215.2,688.3 L216.1,688.9 L217.0,688.6 L217.9,688.4 L218.8,688.6 L219.7,688.3 L220.6,688.6 L221.5,688.9 L222.4,688.8 L223.3,688.7 L224.2,688.5 L225.1,688.5 L226.0,688.4 L226.9,688.8 L227.8,688.6 L228.7,688.8 L229.6,688.5 L230.5,688.4 L231.4,688.8 L232.3,688.9 L233.2,688.8 L234.1,688.8 L235.0,688.8 L235.9,688.7 L236.8,688.4 L237.7,688.6 L238.6,688.5 L239.5,688.3 L240.4,688.3 L241.3,688.5 L242.2,688.5 L243.1,688.7 L244.0,688.9 L245.0,688.6 L245.9,688.9 L246.8,688.9 L247.7,688.9 L248.6,688.5 L249.5,688.4 L250.4,688.4 L251.3,688.4 L252.2,688.4 L253.1,688.7 L254.0,688.8 L254.9,688.8 L255.8,688.6 L256.7,688.7 L257.6,688.8 L258.5,688.4 L259.4,688.7 L260.3,688.8 L261.2,688.8 L262.1,688.8 L263.0,688.6 L263.9,688.4 L264.8,688.8 L265.7,688.5 L266.6,688.8 L267.5,688.9 L268.4,688.5 L269.3,688.5 L270.2,688.9 L271.1,688.7 L272.0,688.4 L272.9,688.4 L273.8,688.4 L274.7,688.8 L275.6,688.8 L276.5,688.4 L277.4,688.8 L278.3,688.9 L279.2,688.7 L280.1,688.5 L281.0,688.6 L282.0,688.4 L282.9,688.3 L283.8,688.9 L284.7,688.7 L285.6,688.6 L286.5,688.9 L287.4,688.6 L288.3,688.8 L289.2,688.8 L290.1,688.4 L291.0,688.5 L291.9,688.5 L292.8,688.4 L293.7,688.7 L294.6,688.5 L295.5,688.6 L296.4,688.4 L297.3,688.8 L298.2,688.5 L299.1,688.6 L300.0,688.7 L300.9,688.5 L301.9,687.8 L302.8,687.8 L303.8,687.2 L304.7,686.8 L305.6,686.4 L306.6,685.8 L307.5,685.7 L308.0,684.7 L308.4,683.8 L308.9,684.1 L309.3,681.6 L309.8,681.6 L310.2,681.4 L310.7,680.2 L311.1,678.8 L311.6,678.5 L312.0,677.8 L312.5,677.6 L312.9,675.0 L313.4,675.4 L314.0,673.8 L314.6,673.2 L315.1,673.8 L315.7,672.4 L316.3,671.8 L316.9,671.6 L317.4,671.3 L318.0,669.4 L318.6,669.1 L319.3,669.5 L320.0,670.2 L320.6,671.3 L321.3,671.3 L322.0,672.2 L322.7,672.7 L323.2,674.9 L323.6,675.2 L324.1,676.6 L324.5,677.7 L325.0,676.9 L325.4,678.5 L325.9,680.4 L326.3,681.0 L326.8,680.1 L327.2,680.9 L327.6,682.6 L328.1,682.5 L328.5,684.3 L329.3,684.7 L330.2,685.4 L331.0,685.9 L331.9,686.4 L332.7,686.4 L333.6,687.1 L334.4,687.5 L335.3,687.2 L336.2,687.6 L337.1,687.7 L338.0,687.3 L338.9,687.7 L339.8,687.4 L340.7,687.4 L341.6,687.8 L342.5,687.7 L343.4,687.3 L344.3,687.4 L345.3,687.5 L346.2,687.4 L347.1,687.3 L348.0,687.4 L348.9,687.7 L349.8,687.2 L350.7,687.6 L351.6,687.5 L352.5,687.3 L353.4,687.5 L354.3,687.6 L355.2,687.6 L356.1,687.3 L357.0,687.9 L357.9,687.8 L358.8,687.9 L359.7,687.4 L360.6,687.5 L361.5,687.3 L362.4,687.8 L363.3,687.5 L364.2,687.4 L365.1,687.6 L366.1,687.9 L367.0,687.9 L367.9,687.5 L368.8,687.5 L369.7,687.9 L370.6,687.7 L371.5,687.8 L372.4,687.5 L373.3,687.5 L374.2,687.8 L375.1,687.7 L376.0,687.5 L376.9,688.0 L377.8,687.8 L378.7,687.9 L379.6,687.5 L380.5,688.0 L381.4,687.5 L382.3,688.0 L383.2,687.8 L384.1,687.7 L385.0,687.8 L385.9,688.1 L386.9,687.7 L387.8,687.6 L388.7,687.9 L389.6,687.7 L390.5,687.6 L391.4,687.7 L392.3,687.6 L393.2,687.7 L394.1,687.8 L395.0,687.8 L395.9,688.1 L396.8,687.8 L397.7,687.9 L398.6,687.7 L399.5,687.8 L400.4,687.7 L401.3,687.8 L402.2,687.7 L403.1,688.1 L404.0,688.0 L404.9,687.8 L405.8,688.0 L406.7,688.3 L407.7,687.8 L408.6,688.2 L409.5,688.0 L410.4,688.0 L411.3,688.2 L412.2,688.0 L413.1,688.1 L414.0,688.2 L414.9,688.4 L415.8,688.0 L416.7,688.3 L417.6,688.2 L418.5,688.2 L419.4,688.0 L420.3,688.0 L421.2,687.8 L422.1,687.9 L423.0,687.9 L423.9,688.3 L424.8,688.0 L425.7,688.0 L426.6,687.9 L427.5,688.4 L428.5,688.4 L429.4,688.3 L430.3,688.1 L431.2,688.0 L432.1,688.1 L433.0,688.2 L433.9,688.0 L434.8,688.2 L435.7,688.1 L436.6,688.5 L437.5,688.5 L438.4,688.3 L439.3,688.1 L440.2,688.6 L441.1,688.2 L442.0,688.2 L442.9,688.0 L443.8,688.2 L444.7,688.3 L445.6,688.3 L446.5,688.1 L447.4,688.3 L448.3,688.0 L449.3,688.2 L450.2,688.1 L451.1,688.3 L452.0,688.1 L452.9,688.1 L453.8,688.3 L454.7,688.2 L455.6,688.5 L456.5,688.4 L457.4,688.6 L458.3,688.5 L459.2,688.6 L460.1,688.7 L461.0,688.4 L461.9,688.3 L462.8,688.7 L463.7,688.3 L464.6,688.6 L465.5,688.6 L466.4,688.2 L467.3,688.7 L468.2,688.7 L469.1,688.6 L470.1,688.7 L471.0,688.7 L471.9,688.3 L472.8,688.6 L473.7,688.6 L474.6,688.8 L475.5,688.7 L476.4,688.8 L477.3,688.6 L478.2,688.8 L479.1,688.7 L480.0,688.7 L480.9,688.4 L481.8,688.2 L482.8,688.1 L483.7,688.2 L484.6,687.9 L485.5,688.3 L486.4,688.1 L487.3,688.0 L488.3,687.9 L489.2,687.9 L490.1,687.7 L491.0,687.3 L491.9,687.7 L492.8,687.6 L493.8,687.4 L494.7,687.3 L495.6,687.3 L496.5,686.8 L497.4,687.2 L498.3,686.8 L499.3,686.6 L500.2,686.6 L501.1,686.8 L502.0,686.4 L502.9,686.7 L503.8,686.7 L504.8,686.4 L505.7,686.2 L506.6,686.2 L507.5,686.1 L508.4,685.9 L509.2,685.5 L510.1,685.3 L511.0,684.7 L511.9,684.5 L512.7,684.3 L513.6,684.3 L514.5,683.4 L515.4,683.9 L516.2,682.2 L517.1,682.1 L518.0,682.3 L518.9,683.1 L519.7,682.9 L520.6,682.7 L521.4,681.2 L522.2,681.3 L523.0,680.7 L523.8,680.2 L524.6,678.9 L525.4,680.4 L526.3,678.1 L527.1,679.7 L527.9,679.1 L528.7,676.3 L529.5,676.9 L530.3,677.4 L531.1,677.3 L532.0,675.5 L532.9,674.6 L533.7,674.0 L534.6,675.5 L535.5,673.2 L536.4,673.7 L537.2,672.1 L538.1,672.7 L538.7,673.1 L539.4,670.4 L540.0,671.5 L540.6,670.0 L541.3,670.4 L541.9,669.3 L542.6,667.4 L543.2,668.5 L543.8,666.8 L544.5,664.9 L545.1,664.2 L545.6,664.7 L546.1,663.8 L546.5,662.6 L547.0,661.4 L547.5,661.1 L548.0,660.3 L548.5,660.8 L549.0,657.9 L549.4,659.0 L549.9,658.5 L550.4,655.8 L550.8,657.0 L551.1,655.6 L551.5,655.2 L551.9,652.7 L552.3,652.1 L552.6,651.3 L553.0,651.9 L553.4,650.0 L553.7,648.5 L554.1,647.8 L554.5,646.6 L554.9,645.1 L555.2,644.3 L555.6,645.4 L555.9,643.1 L556.2,643.9 L556.5,641.2 L556.9,640.4 L557.2,640.2 L557.5,638.5 L557.8,638.1 L558.1,638.7 L558.4,637.7 L558.7,636.6 L559.1,635.3 L559.4,635.1 L559.7,634.3 L560.0,632.4 L560.6,632.1 L561.2,629.6 L561.8,630.6 L562.1,629.0 L562.3,628.9 L562.6,627.7 L562.8,625.9 L563.1,624.4 L563.3,625.7 L563.6,622.8 L563.8,622.8 L564.1,621.5 L564.4,620.5 L564.6,620.8 L564.9,620.5 L565.1,617.7 L565.4,617.9 L565.6,616.1 L565.9,615.8 L566.1,614.5 L566.4,613.0 L566.6,612.1 L566.8,611.4 L566.9,612.3 L567.1,610.3 L567.3,608.7 L567.5,609.6 L567.6,609.0 L567.8,606.7 L568.0,605.0 L568.2,604.2 L568.3,603.1 L568.5,602.8 L568.7,601.3 L568.9,600.8 L569.0,599.9 L569.2,599.9 L569.4,599.8 L569.6,598.5 L569.9,596.7 L570.1,595.8 L570.3,595.1 L570.6,593.8 L570.8,592.8 L571.0,591.1 L571.2,590.8 L571.5,591.6 L571.7,588.5 L571.9,588.6 L572.2,588.0 L572.4,587.6 L572.5,585.0 L572.6,584.2 L572.6,583.3 L572.7,582.7 L572.8,581.9 L572.9,582.3 L573.0,581.1 L573.1,580.2 L573.1,577.1 L573.2,576.2 L573.3,577.0 L573.4,576.6 L573.5,574.6 L573.6,573.9 L573.6,571.5 L573.7,571.6 L573.8,572.0 L573.9,570.8 L574.1,570.0 L574.4,569.4 L574.6,566.6 L574.8,565.3 L575.0,564.6 L575.3,564.6 L575.5,564.1 L575.7,563.9 L576.0,562.4 L576.2,561.3 L576.3,560.7 L576.5,558.9 L576.6,558.3 L576.7,556.0 L576.8,557.0 L577.0,554.6 L577.1,555.5 L577.2,553.9 L577.4,552.0 L577.5,550.7 L577.6,550.0 L577.7,550.1 L577.9,549.4 L578.0,546.9 L578.1,545.9 L578.2,546.1 L578.4,545.3 L578.5,543.9 L578.6,542.5 L578.7,542.6 L578.8,540.1 L578.9,539.9 L579.0,539.4 L579.1,539.7 L579.2,537.9 L579.4,537.6 L579.5,535.6 L579.6,534.0 L579.7,533.1 L579.8,534.0 L579.9,532.4 L580.0,530.4 L580.1,528.8 L580.2,529.1 L580.3,528.7 L580.3,527.1 L580.4,525.8 L580.5,525.9 L580.6,525.7 L580.6,523.0 L580.7,521.6 L580.8,521.5 L580.9,520.8 L580.9,520.6 L581.0,518.4 L581.1,519.1 L581.2,518.0 L581.3,516.5 L581.3,514.8 L581.4,515.9 L581.5,513.3 L581.6,513.7 L581.6,511.3 L581.7,510.4 L581.8,510.9 L581.9,508.8 L582.0,509.6 L582.0,507.5 L582.1,505.8 L582.2,505.0 L582.3,504.6 L582.3,504.3 L582.4,504.2 L582.5,501.2 L582.6,500.9 L582.6,499.6 L582.7,500.6 L582.8,497.6 L582.9,496.4 L583.0,495.6 L583.1,495.5 L583.3,495.9 L583.4,495.0 L583.5,493.7 L583.6,493.5 L583.7,492.4 L583.8,490.0 L584.0,488.7 L584.1,489.8 L584.2,488.4 L584.3,485.6 L584.4,486.4 L584.5,484.7 L584.7,483.8 L584.8,482.8 L584.9,481.5 L585.0,480.2 L585.1,480.0 L585.2,479.3 L585.4,480.0 L585.5,476.9 L585.6,478.2 L585.7,475.3 L585.8,474.8 L585.9,475.1 L586.1,474.2 L586.2,472.3 L586.3,470.4 L586.4,470.6 L586.5,469.4 L586.6,469.9 L586.7,467.0 L586.8,466.5 L586.9,467.0 L587.0,463.8 L587.1,463.8 L587.2,463.9 L587.2,462.9 L587.3,460.0 L587.4,459.1 L587.5,458.2 L587.6,459.5 L587.7,456.8 L587.8,457.2 L587.9,456.6 L588.0,454.2 L588.1,453.1 L588.2,453.9 L588.3,452.1 L588.4,450.3 L588.5,450.5 L588.6,448.5 L588.7,447.5 L588.8,445.8 L588.9,446.8 L589.0,446.3 L589.0,444.6 L589.1,444.5 L589.2,441.2 L589.3,440.8 L589.4,440.4 L589.5,440.8 L589.6,439.8 L589.7,437.4 L589.8,436.1 L589.9,435.6 L590.1,434.9 L590.4,435.1 L590.6,432.3 L590.8,433.0 L591.0,432.0 L591.2,431.3 L591.5,430.3 L591.7,428.9 L591.9,427.3 L592.1,426.4 L592.4,425.6 L592.6,425.8 L592.8,423.1 L593.0,422.5 L593.3,423.1 L593.5,420.8 L593.7,419.5 L594.0,418.5 L594.2,418.9 L594.4,417.4 L594.5,420.1 L594.6,420.7 L594.7,421.9 L594.8,421.0 L594.9,421.4 L595.0,422.4 L595.1,424.3 L595.2,425.8 L595.3,426.0 L595.4,426.4 L595.5,427.8 L595.7,429.3 L595.9,430.4 L596.1,431.6 L596.3,432.8 L596.5,433.3 L596.7,432.9 L596.9,435.7 L597.1,435.3 L597.2,436.9 L597.4,437.3 L597.5,439.1 L597.6,438.6 L597.8,439.6 L597.9,440.5 L598.0,441.2 L598.2,444.0 L598.3,444.1 L598.5,444.3 L598.6,445.4 L598.7,447.8 L598.9,447.5 L599.0,447.6 L599.1,450.0 L599.3,450.5 L599.4,452.3 L599.5,450.9 L599.7,452.7 L599.8,454.5 L599.9,455.5 L600.0,456.7 L600.1,455.3 L600.2,456.9 L600.3,457.4 L600.4,458.5 L600.5,461.5 L600.6,461.5 L600.7,463.3 L600.7,462.8 L600.8,465.0 L600.9,464.9 L601.0,465.3 L601.1,467.6 L601.2,469.0 L601.3,467.7 L601.4,470.0 L601.5,471.0 L601.6,470.9 L601.7,472.2 L601.7,472.5 L601.8,473.6 L601.8,474.7 L601.9,476.5 L602.0,477.6 L602.0,477.3 L602.1,477.8 L602.1,479.5 L602.2,481.3 L602.2,481.0 L602.3,482.2 L602.4,482.9 L602.4,485.4 L602.5,485.6 L602.5,485.3 L602.6,486.3 L602.7,488.0 L602.7,489.4 L602.8,490.5 L602.8,490.0 L602.9,491.1 L602.9,493.4 L603.0,493.6 L603.1,494.2 L603.1,495.2 L603.2,497.8 L603.2,497.1 L603.3,498.7 L603.4,499.0 L603.4,500.1 L603.5,502.1 L603.5,503.4 L603.6,502.6 L603.6,503.1 L603.7,505.4 L603.7,504.9 L603.8,505.3 L603.8,508.5 L603.9,508.2 L603.9,510.1 L604.0,510.0 L604.0,512.1 L604.1,511.9 L604.1,512.0 L604.2,512.5 L604.2,514.8 L604.3,516.0 L604.3,517.6 L604.4,516.3 L604.4,518.6 L604.5,518.9 L604.5,520.1 L604.6,520.1 L604.6,521.3 L604.7,522.9 L604.7,524.8 L604.8,523.6 L604.8,525.5 L604.9,527.2 L604.9,528.5 L605.0,527.4 L605.0,528.1 L605.1,531.2 L605.3,532.1 L605.5,531.8 L605.7,531.6 L605.9,534.8 L606.1,534.3 L606.3,536.5 L606.5,536.7 L606.6,538.2 L606.8,537.3 L607.0,539.9 L607.2,539.3 L607.4,540.7 L607.6,542.8 L607.8,543.6 L608.0,542.9 L608.1,543.9 L608.2,545.3 L608.3,546.5 L608.4,547.0 L608.5,547.3 L608.6,548.5 L608.6,550.7 L608.7,552.0 L608.8,550.7 L608.9,553.0 L609.0,554.4 L609.1,553.4 L609.2,556.4 L609.3,555.5 L609.4,557.6 L609.5,558.4 L609.6,559.5 L609.7,559.6 L609.8,560.8 L609.8,562.1 L609.9,562.6 L610.0,564.2 L610.1,564.5 L610.2,565.4 L610.3,565.2 L610.4,567.7 L610.5,568.3 L610.7,568.5 L610.8,570.8 L611.0,571.8 L611.1,571.8 L611.2,572.0 L611.4,573.7 L611.5,573.7 L611.6,574.6 L611.8,576.3 L611.9,576.4 L612.1,578.2 L612.2,579.3 L612.3,579.0 L612.5,581.4 L612.6,580.9 L612.8,583.5 L612.9,584.5 L613.0,584.7 L613.2,584.5 L613.3,586.6 L613.4,587.1 L613.6,589.5 L613.7,588.3 L613.9,591.1 L614.0,592.4 L614.1,592.6 L614.3,593.7 L614.4,593.0 L614.5,596.0 L614.7,595.6 L614.8,597.8 L614.9,598.6 L615.1,597.5 L615.2,600.1 L615.3,601.3 L615.5,600.0 L615.6,601.7 L615.8,603.6 L615.9,603.0 L616.0,605.8 L616.2,605.1 L616.3,607.4 L616.4,606.6 L616.6,608.4 L616.7,610.4 L616.8,609.5 L617.0,610.5 L617.1,612.1 L617.2,612.5 L617.4,612.7 L617.5,614.0 L617.6,614.8 L617.7,617.8 L617.8,618.0 L617.9,619.5 L618.0,618.5 L618.1,621.0 L618.1,620.2 L618.2,622.2 L618.3,623.4 L618.4,623.6 L618.5,625.8 L618.6,625.9 L618.7,626.9 L618.8,628.6 L618.9,627.4 L619.0,630.7 L619.1,630.6 L619.2,630.9 L619.3,632.9 L619.3,632.4 L619.4,635.2 L619.5,635.1 L619.6,635.4 L619.7,637.4 L619.8,637.4 L619.9,637.7 L620.0,640.0 L620.1,639.1 L620.2,642.0 L620.4,641.5 L620.5,643.4 L620.6,645.2 L620.7,645.0 L620.8,646.1 L620.9,646.1 L621.0,646.2 L621.2,647.2 L621.3,648.4 L621.4,650.5 L621.5,650.9 L621.6,652.0 L621.7,653.9 L621.8,652.8 L622.0,654.0 L622.1,656.0 L622.2,655.3 L622.3,656.1 L622.5,657.9 L622.7,658.2 L623.0,659.7 L623.2,660.3 L623.4,662.1 L623.6,663.0 L623.8,662.9 L624.0,664.9 L624.3,665.4 L624.5,665.4 L624.7,668.4 L624.9,667.5 L625.1,668.1 L625.4,668.9 L625.6,671.2 L625.8,672.7 L626.4,673.2 L627.0,672.9 L627.6,673.3 L628.1,673.4 L628.7,675.8 L629.3,676.3 L629.9,676.5 L630.5,678.0 L631.4,677.7 L632.3,679.3 L633.2,679.0 L634.2,678.0 L635.1,680.0 L636.0,678.0 L636.9,679.6 L637.8,679.5 L638.7,679.3 L639.7,679.1 L640.6,681.3 L641.5,679.6 L642.4,681.2 L643.3,682.2 L644.2,680.2 L645.1,680.3 L646.0,681.4 L646.9,681.1 L647.8,681.5 L648.8,681.9 L649.7,680.3 L650.6,680.6 L651.5,680.6 L652.4,679.9 L653.3,682.1 L654.2,681.8 L655.1,681.7 L656.0,679.8 L656.9,682.0 L657.9,681.7 L658.8,681.0 L659.7,681.7 L660.6,681.0 L661.5,680.4 L662.4,680.1 L663.3,680.4 L664.3,679.9 L665.2,680.7 L666.1,681.7 L667.0,681.6" fill="none" stroke="#4472c4" stroke-width="2.6" stroke-linejoin="round" stroke-linecap="round" />
<path d="M550.3,656.8 L551.0,655.7 L552.1,654.9 L551.8,653.4 L552.3,652.3 L552.9,651.3 L552.7,649.8 L553.7,649.0 L554.4,648.0 L555.2,647.0 L554.4,645.3 L555.2,644.4 L555.3,643.0 L557.1,642.3 L557.3,641.0 L556.5,639.3 L558.7,638.7 L559.1,637.5 L559.0,636.1 L559.3,634.8 L558.9,633.2 L559.2,631.8 L560.9,631.2 L561.0,629.6 L561.6,628.5 L562.0,627.4 L562.0,626.0 L563.1,625.0 L563.5,623.8 L564.6,622.8 L564.3,621.3 L564.9,620.2 L565.0,618.9 L565.7,617.7 L565.6,616.4 L565.6,615.0 L567.4,614.1 L567.6,612.9 L567.6,611.5 L567.6,610.2 L567.0,608.8 L567.1,607.5 L567.5,606.3 L567.3,604.9 L568.9,603.9 L568.5,602.5 L569.6,601.5 L568.9,600.0 L570.9,599.1 L570.8,597.9 L568.4,596.0 L569.3,594.9 L572.0,594.3 L570.8,592.7 L572.8,591.9 L571.2,590.2 L570.4,588.8 L572.5,588.0 L573.3,586.9 L571.7,585.3 L571.2,584.0 L572.2,582.8 L574.4,581.7 L573.9,580.4 L571.8,578.9 L572.3,577.6 L572.0,576.3 L571.9,575.0 L574.6,573.9 L572.6,572.5 L574.0,571.3 L573.7,570.0 L573.2,568.5 L575.3,567.6 L573.7,565.8 L575.7,564.9 L574.3,563.2 L575.6,562.1 L575.2,560.7 L575.6,559.6 L578.1,558.7 L577.7,557.5 L576.2,556.0 L578.3,555.1 L576.2,553.6 L577.0,552.5 L578.7,551.5 L578.2,550.2 L576.5,548.8 L579.7,548.0 L577.2,546.5 L577.5,545.3 L579.4,544.3 L578.1,542.8 L578.1,541.5 L577.5,540.2 L577.7,538.9 L579.5,537.8 L578.5,536.4 L579.9,535.2 L579.2,533.8 L579.7,532.6 L581.5,531.5 L580.0,530.0 L580.5,528.8 L581.5,527.7 L579.3,526.3 L579.3,525.1 L582.0,524.1 L581.8,522.8 L580.0,521.4 L579.9,520.2 L581.8,519.2 L582.6,518.0 L580.2,516.6 L582.9,515.6 L582.7,514.4 L581.9,513.1 L581.4,511.8 L580.4,510.5 L580.3,509.3 L583.5,508.3 L581.2,506.9 L582.9,505.8 L581.5,504.5 L583.5,503.4 L582.8,502.2 L581.9,500.9 L581.6,499.6 L583.5,498.6 L581.5,497.1 L582.2,495.9 L583.5,494.9 L584.6,493.8 L584.0,492.4 L583.0,491.1 L585.3,490.1 L583.1,488.6 L582.6,487.3 L583.6,486.2 L584.4,485.0 L583.2,483.6 L583.8,482.5 L584.6,481.3 L585.4,480.2 L584.1,478.8 L585.0,477.7 L587.0,476.7 L587.4,475.5 L586.5,474.1 L586.8,472.9 L586.6,471.6 L585.2,470.2 L585.0,468.9 L585.1,467.6 L588.2,466.6 L587.6,465.3 L588.6,464.1 L585.6,462.5 L587.8,461.4 L587.4,460.1 L588.4,458.9 L587.1,457.5 L589.5,456.4 L586.5,454.8 L588.3,453.7 L589.0,452.5 L589.7,451.3 L589.3,449.9 L589.3,448.7 L589.7,447.4 L590.3,446.2 L588.5,444.7 L589.8,443.5 L590.6,442.3 L590.6,441.0 L589.2,439.6 L590.6,438.5 L591.0,437.2 L590.1,435.8 L590.6,434.7 L590.1,433.3 L591.1,432.3 L591.5,431.1 L590.0,429.5 L592.2,428.8 L593.6,427.9 L593.6,426.6 L593.4,425.3 L592.5,423.8 L594.0,422.9 L593.8,421.6 L593.6,420.3 L595.2,419.6 L594.6,416.5 L593.7,419.4 L596.3,420.3 L594.5,421.7 L595.0,422.9 L596.0,424.1 L594.6,425.5 L595.4,426.7 L595.1,428.1 L594.4,429.6 L596.5,430.5 L597.3,431.7 L597.0,433.1 L596.5,434.6 L597.7,435.7 L597.9,436.9 L596.7,438.3 L597.3,439.4 L597.9,440.6 L597.2,441.9 L598.5,442.9 L598.0,444.2 L599.1,445.3 L598.9,446.5 L598.3,447.8 L598.3,449.1 L598.5,450.2 L599.7,451.3 L599.5,452.5 L600.2,453.7 L600.7,454.9 L600.1,456.3 L599.5,457.6 L599.6,458.9 L600.0,460.1 L599.7,461.5 L601.1,462.6 L601.5,463.9 L601.1,465.2 L601.5,466.4 L601.8,467.7 L601.5,469.0 L601.2,470.3 L601.6,471.6 L602.0,472.8 L601.1,474.1 L600.9,475.3 L602.0,476.5 L602.8,477.7 L603.0,478.9 L601.4,480.2 L603.1,481.3 L601.9,482.6 L602.2,483.8 L602.8,485.0 L601.9,486.3 L603.6,487.4 L603.4,488.7 L602.8,489.9 L603.8,491.1 L602.3,492.4 L603.5,493.6 L603.8,494.8 L604.0,496.0 L603.0,497.3 L603.4,498.5 L603.1,499.7 L603.1,500.9 L602.9,502.2 L602.7,503.4 L603.3,504.6 L604.3,505.7 L603.8,507.0 L604.5,508.2 L604.9,509.3 L604.0,510.6 L603.6,511.9 L604.8,513.0 L604.7,514.2 L604.6,515.4 L603.9,516.7 L604.4,517.9 L604.2,519.1 L604.0,520.3 L604.8,521.5 L604.1,522.8 L603.9,524.0 L605.6,525.1 L604.0,526.4 L604.5,527.6 L605.8,528.7 L605.2,530.0 L605.1,531.3 L604.8,532.7 L606.1,533.7 L606.0,535.0 L605.7,536.4 L606.1,537.6 L606.1,538.9 L607.3,539.9 L607.2,541.3 L608.3,542.3 L607.6,543.8 L607.5,545.0 L608.0,546.2 L607.9,547.5 L609.1,548.6 L607.8,550.0 L607.8,551.3 L607.9,552.5 L608.9,553.7 L608.6,555.0 L609.6,556.1 L608.6,557.5 L608.8,558.7 L609.9,559.9 L610.6,561.1 L610.0,562.4 L609.9,563.7 L609.6,565.0 L610.3,566.1 L611.3,567.3 L610.0,568.7 L611.6,569.8 L610.4,571.2 L611.8,572.3 L611.7,573.6 L611.0,575.0 L612.4,576.0 L612.6,577.3 L612.1,578.6 L611.9,579.9 L611.8,581.2 L612.3,582.4 L612.0,583.7 L613.1,584.9 L612.4,586.2 L614.3,587.2 L614.2,588.5 L613.8,589.9 L614.4,591.0 L613.7,592.4 L614.1,593.6 L614.5,594.8 L614.1,596.2 L614.8,597.4 L615.5,598.5 L615.5,599.8 L614.8,601.2 L614.9,602.4 L616.4,603.5 L615.3,604.9 L615.3,606.2 L616.3,607.3 L616.4,608.6 L617.4,609.7 L616.9,611.1 L617.1,612.3 L617.1,613.6 L618.4,614.7 L616.7,616.2 L617.7,617.3 L618.1,618.5 L617.4,619.9 L618.0,621.0 L618.3,622.3 L618.0,623.6 L619.4,624.7 L618.6,626.0 L618.9,627.3 L618.0,628.6 L618.2,629.9 L619.6,631.0 L619.3,632.3 L620.1,633.4 L619.7,634.7 L619.0,636.1 L619.0,637.3 L619.9,638.5 L620.4,639.7 L620.8,640.9 L620.1,642.3 L619.7,643.6 L621.4,644.7 L620.3,646.1 L622.0,647.2 L621.8,648.5 L621.9,649.8 L621.1,651.1 L622.0,652.3 L622.1,653.6 L621.7,654.9 L622.9,656.0 L621.8,657.5" fill="none" stroke="#4472c4" stroke-width="3.6" stroke-linejoin="round" stroke-linecap="round" />
<path d="M594.4,418.0 L594.8,466.0" fill="none" stroke="#4472c4" stroke-width="1.8" stroke-linejoin="round" stroke-linecap="round" />
<path d="M597.6,421.0 L597.6,468.0" fill="none" stroke="#4472c4" stroke-width="1.8" stroke-linejoin="round" stroke-linecap="round" />
<path d="M600.9,435.0 L601.2,460.0" fill="none" stroke="#4472c4" stroke-width="1.8" stroke-linejoin="round" stroke-linecap="round" />
<path d="M480.0,686.8 L492.6,686.6 L500.6,684.5 L507.7,680.6 L513.8,675.8 L518.2,672.3 L522.5,667.0 L526.9,661.8 L532.9,651.5 L538.1,639.3 L543.4,625.3 L545.2,613.9 L551.2,592.7 L555.8,577.6 L560.3,559.4 L564.1,539.7 L566.4,520.0 L569.3,507.4 L574.7,480.6 L580.1,450.1 L583.6,426.9 L585.4,416.1 L588.1,415.2 L592.6,423.3 L597.1,444.8 L600.7,471.6 L604.2,498.5 L608.0,520.0 L611.6,543.7 L616.3,562.7 L621.1,581.6 L625.8,605.3 L630.5,629.0 L635.3,652.7 L640.0,671.7 L643.6,681.1 L649.5,685.9 L667.0,685.9" fill="none" stroke="#ffc000" stroke-width="2.6" stroke-linejoin="round" stroke-linecap="round" />
<circle cx="95.3" cy="686.6" r="2.95" fill="none" stroke="#000" stroke-width="1.5"/><circle cx="103.1" cy="686.6" r="2.95" fill="none" stroke="#000" stroke-width="1.5"/><circle cx="110.5" cy="686.6" r="2.95" fill="none" stroke="#000" stroke-width="1.5"/><circle cx="127.4" cy="686.6" r="2.95" fill="none" stroke="#000" stroke-width="1.5"/><circle cx="146.7" cy="686.6" r="2.95" fill="none" stroke="#000" stroke-width="1.5"/><circle cx="165.3" cy="686.3" r="2.95" fill="none" stroke="#000" stroke-width="1.5"/><circle cx="175.8" cy="686.3" r="2.95" fill="none" stroke="#000" stroke-width="1.5"/><circle cx="190.5" cy="686.3" r="2.95" fill="none" stroke="#000" stroke-width="1.5"/><circle cx="196.0" cy="686.3" r="2.95" fill="none" stroke="#000" stroke-width="1.5"/><circle cx="313.9" cy="685.5" r="2.95" fill="none" stroke="#000" stroke-width="1.5"/><circle cx="321.5" cy="681.0" r="2.95" fill="none" stroke="#000" stroke-width="1.5"/><circle cx="329.7" cy="685.1" r="2.95" fill="none" stroke="#000" stroke-width="1.5"/><circle cx="510.1" cy="686.2" r="2.95" fill="none" stroke="#000" stroke-width="1.5"/><circle cx="517.6" cy="682.2" r="2.95" fill="none" stroke="#000" stroke-width="1.5"/><circle cx="524.4" cy="674.7" r="2.95" fill="none" stroke="#000" stroke-width="1.5"/><circle cx="530.2" cy="666.8" r="2.95" fill="none" stroke="#000" stroke-width="1.5"/><circle cx="535.1" cy="656.8" r="2.95" fill="none" stroke="#000" stroke-width="1.5"/><circle cx="537.6" cy="648.9" r="2.95" fill="none" stroke="#000" stroke-width="1.5"/><circle cx="539.9" cy="641.4" r="2.95" fill="none" stroke="#000" stroke-width="1.5"/><circle cx="542.3" cy="630.5" r="2.95" fill="none" stroke="#000" stroke-width="1.5"/><circle cx="545.2" cy="620.3" r="2.95" fill="none" stroke="#000" stroke-width="1.5"/><circle cx="547.9" cy="609.7" r="2.95" fill="none" stroke="#000" stroke-width="1.5"/><circle cx="550.5" cy="598.5" r="2.95" fill="none" stroke="#000" stroke-width="1.5"/><circle cx="552.7" cy="586.2" r="2.95" fill="none" stroke="#000" stroke-width="1.5"/><circle cx="555.5" cy="576.5" r="2.95" fill="none" stroke="#000" stroke-width="1.5"/><circle cx="557.7" cy="566.2" r="2.95" fill="none" stroke="#000" stroke-width="1.5"/><circle cx="560.6" cy="556.7" r="2.95" fill="none" stroke="#000" stroke-width="1.5"/><circle cx="563.0" cy="547.0" r="2.95" fill="none" stroke="#000" stroke-width="1.5"/><circle cx="563.6" cy="542.0" r="2.95" fill="none" stroke="#000" stroke-width="1.5"/><circle cx="566.7" cy="526.6" r="2.95" fill="none" stroke="#000" stroke-width="1.5"/><circle cx="569.3" cy="514.6" r="2.95" fill="none" stroke="#000" stroke-width="1.5"/><circle cx="570.2" cy="506.5" r="2.95" fill="none" stroke="#000" stroke-width="1.5"/><circle cx="572.0" cy="499.4" r="2.95" fill="none" stroke="#000" stroke-width="1.5"/><circle cx="572.4" cy="494.0" r="2.95" fill="none" stroke="#000" stroke-width="1.5"/><circle cx="572.9" cy="487.7" r="2.95" fill="none" stroke="#000" stroke-width="1.5"/><circle cx="575.6" cy="473.4" r="2.95" fill="none" stroke="#000" stroke-width="1.5"/><circle cx="576.5" cy="464.5" r="2.95" fill="none" stroke="#000" stroke-width="1.5"/><circle cx="577.9" cy="456.9" r="2.95" fill="none" stroke="#000" stroke-width="1.5"/><circle cx="579.7" cy="449.2" r="2.95" fill="none" stroke="#000" stroke-width="1.5"/><circle cx="580.6" cy="441.2" r="2.95" fill="none" stroke="#000" stroke-width="1.5"/><circle cx="581.9" cy="433.1" r="2.95" fill="none" stroke="#000" stroke-width="1.5"/><circle cx="582.8" cy="427.8" r="2.95" fill="none" stroke="#000" stroke-width="1.5"/><circle cx="583.6" cy="424.2" r="2.95" fill="none" stroke="#000" stroke-width="1.5"/><circle cx="590.8" cy="417.9" r="2.95" fill="none" stroke="#000" stroke-width="1.5"/><circle cx="591.7" cy="426.5" r="2.95" fill="none" stroke="#000" stroke-width="1.5"/><circle cx="593.0" cy="434.0" r="2.95" fill="none" stroke="#000" stroke-width="1.5"/><circle cx="594.7" cy="442.1" r="2.95" fill="none" stroke="#000" stroke-width="1.5"/><circle cx="595.8" cy="450.1" r="2.95" fill="none" stroke="#000" stroke-width="1.5"/><circle cx="597.1" cy="457.7" r="2.95" fill="none" stroke="#000" stroke-width="1.5"/><circle cx="598.3" cy="467.1" r="2.95" fill="none" stroke="#000" stroke-width="1.5"/><circle cx="599.4" cy="476.6" r="2.95" fill="none" stroke="#000" stroke-width="1.5"/><circle cx="600.7" cy="484.5" r="2.95" fill="none" stroke="#000" stroke-width="1.5"/><circle cx="601.2" cy="491.7" r="2.95" fill="none" stroke="#000" stroke-width="1.5"/><circle cx="602.1" cy="500.3" r="2.95" fill="none" stroke="#000" stroke-width="1.5"/><circle cx="602.8" cy="507.4" r="2.95" fill="none" stroke="#000" stroke-width="1.5"/><circle cx="604.8" cy="515.5" r="2.95" fill="none" stroke="#000" stroke-width="1.5"/><circle cx="605.3" cy="521.3" r="2.95" fill="none" stroke="#000" stroke-width="1.5"/><circle cx="605.9" cy="528.8" r="2.95" fill="none" stroke="#000" stroke-width="1.5"/><circle cx="606.4" cy="537.8" r="2.95" fill="none" stroke="#000" stroke-width="1.5"/><circle cx="608.0" cy="544.9" r="2.95" fill="none" stroke="#000" stroke-width="1.5"/><circle cx="609.7" cy="554.4" r="2.95" fill="none" stroke="#000" stroke-width="1.5"/><circle cx="611.1" cy="561.5" r="2.95" fill="none" stroke="#000" stroke-width="1.5"/><circle cx="612.1" cy="570.2" r="2.95" fill="none" stroke="#000" stroke-width="1.5"/><circle cx="613.5" cy="579.2" r="2.95" fill="none" stroke="#000" stroke-width="1.5"/><circle cx="614.4" cy="589.4" r="2.95" fill="none" stroke="#000" stroke-width="1.5"/><circle cx="615.9" cy="596.3" r="2.95" fill="none" stroke="#000" stroke-width="1.5"/><circle cx="616.3" cy="603.6" r="2.95" fill="none" stroke="#000" stroke-width="1.5"/><circle cx="617.5" cy="612.4" r="2.95" fill="none" stroke="#000" stroke-width="1.5"/><circle cx="618.2" cy="620.7" r="2.95" fill="none" stroke="#000" stroke-width="1.5"/><circle cx="619.2" cy="627.8" r="2.95" fill="none" stroke="#000" stroke-width="1.5"/><circle cx="620.4" cy="636.1" r="2.95" fill="none" stroke="#000" stroke-width="1.5"/><circle cx="621.5" cy="643.2" r="2.95" fill="none" stroke="#000" stroke-width="1.5"/><circle cx="623.0" cy="652.7" r="2.95" fill="none" stroke="#000" stroke-width="1.5"/><circle cx="624.6" cy="659.8" r="2.95" fill="none" stroke="#000" stroke-width="1.5"/><circle cx="625.8" cy="667.4" r="2.95" fill="none" stroke="#000" stroke-width="1.5"/><circle cx="630.1" cy="675.9" r="2.95" fill="none" stroke="#000" stroke-width="1.5"/><circle cx="638.1" cy="682.3" r="2.95" fill="none" stroke="#000" stroke-width="1.5"/><circle cx="645.5" cy="683.5" r="2.95" fill="none" stroke="#000" stroke-width="1.5"/><circle cx="653.1" cy="683.5" r="2.95" fill="none" stroke="#000" stroke-width="1.5"/><circle cx="661.4" cy="683.0" r="2.95" fill="none" stroke="#000" stroke-width="1.5"/>
<path d="M78.5,607.0 L87.7,601.0 L96.0,596.3 L104.8,591.0 L111.8,589.3 L116.1,590.1 L120.5,591.9 L126.6,588.8 L132.8,585.3 L139.8,579.6 L145.0,575.7 L150.3,572.0 L155.3,569.5 L160.5,567.8 L167.5,567.5 L176.3,567.2 L180.6,569.0 L183.3,572.8 L189.4,576.3 L195.5,580.6 L200.8,584.2 L206.0,586.8 L210.0,589.0 L211.3,590.1 L219.6,591.7 L227.9,593.4 L236.1,594.2 L252.6,595.0 L265.0,592.7 L274.1,591.7 L280.2,589.4 L286.2,583.3 L290.8,574.2 L295.3,563.6 L299.1,554.5 L301.4,553.0 L304.4,556.1 L307.4,563.6 L310.5,575.8 L313.5,584.8 L318.0,590.9 L325.6,594.7 L333.2,596.2 L345.0,597.0 L356.1,599.5 L372.1,598.7 L388.2,601.1 L404.2,602.7 L420.3,601.9 L436.4,599.5 L446.0,597.9" fill="none" stroke="#00b0f0" stroke-width="2.4" stroke-linejoin="round" stroke-linecap="round" />
<path d="M78.5,606.0 L85.3,598.4 L93.5,593.7 L101.7,585.5 L107.5,580.3 L111.0,580.9 L115.7,584.4 L120.4,588.5 L126.2,592.6 L130.9,593.1 L136.7,590.2 L143.7,584.4 L150.3,577.0 L155.3,571.9 L160.5,568.4 L167.5,567.5 L171.0,568.8 L176.3,566.6 L180.6,568.4 L185.0,571.5 L190.3,572.3 L195.5,574.1 L200.8,575.4 L206.0,578.0 L210.0,580.2 L211.3,581.0 L219.6,586.0 L227.9,590.1 L236.1,592.6 L244.4,593.9 L252.6,595.0 L262.6,595.5 L280.2,593.9 L295.3,591.7 L301.4,590.2 L307.4,586.4 L312.0,580.3 L315.8,569.7 L318.8,562.1 L321.1,560.6 L323.3,562.1 L326.4,569.7 L330.2,580.3 L334.7,589.4 L340.0,593.1 L348.0,595.5 L356.1,597.1 L364.1,596.8 L372.1,594.7 L380.1,590.7 L388.2,586.6 L396.2,584.2 L404.2,584.2 L409.1,585.8 L413.9,587.4 L420.3,589.1 L428.3,591.5 L436.4,593.1 L446.0,593.9" fill="none" stroke="#ff0000" stroke-width="4.0" stroke-linejoin="round" stroke-linecap="round" />
<path d="M78.5,607.9 L79.3,607.2 L80.2,606.2 L81.0,607.1 L81.9,604.8 L82.7,605.2 L83.6,605.4 L84.4,603.2 L85.3,603.6 L86.1,603.2 L87.0,601.5 L87.8,601.6 L88.7,601.7 L89.5,600.6 L90.4,600.6 L91.2,598.9 L92.0,598.5 L92.8,597.6 L93.7,597.8 L94.5,598.1 L95.3,596.8 L96.1,596.6 L96.9,595.2 L97.8,595.4 L98.6,593.5 L99.4,593.3 L100.4,593.6 L101.4,593.2 L102.4,592.2 L103.5,591.0 L104.5,590.9 L105.5,590.4 L106.5,590.1 L107.7,591.0 L108.9,589.7 L110.0,591.0 L111.2,590.9 L112.4,589.2 L113.3,590.6 L114.2,591.5 L115.2,591.2 L116.1,592.7 L117.0,594.4 L117.7,593.6 L118.4,595.4 L119.1,595.2 L119.8,596.9 L120.5,598.3 L121.7,597.1 L122.8,597.0 L123.9,597.3 L125.1,598.5 L126.2,597.6 L127.2,597.8 L128.2,598.8 L129.3,599.7 L130.3,598.4 L131.3,598.1 L132.4,598.3 L133.4,596.9 L134.4,597.6 L135.4,596.4 L136.4,597.2 L137.4,597.8 L138.4,595.9 L139.4,596.8 L140.4,596.7 L141.4,595.7 L142.4,595.8 L143.5,597.2 L144.7,597.0 L145.8,595.2 L146.9,596.2 L148.0,596.6 L149.2,595.0 L150.3,595.6 L151.4,594.5 L152.4,595.1 L153.5,595.7 L154.6,595.5 L155.6,595.8 L156.7,594.4 L157.8,594.9 L158.8,595.9 L159.9,595.3 L161.0,595.1 L162.0,594.9 L163.1,596.1 L164.1,595.2 L165.1,594.1 L166.1,595.6 L167.2,594.6 L168.2,594.8 L169.2,594.3 L170.2,594.8 L171.2,594.5 L172.2,594.0 L173.3,595.1 L174.3,594.0 L175.3,595.3 L176.3,593.8 L177.4,595.1 L178.4,595.1 L179.5,594.3 L180.6,594.6 L181.6,593.9 L182.6,595.2 L183.5,594.8 L184.5,594.6 L185.5,596.4 L186.5,595.5 L187.4,595.7 L188.4,596.9 L189.4,596.1 L190.5,596.9 L191.6,596.1 L192.7,597.6 L193.8,596.6 L194.9,596.3 L196.0,598.3 L197.1,596.9 L198.2,598.6 L199.3,598.7 L200.3,598.1 L201.4,596.9 L202.5,597.1 L203.6,597.5 L204.6,597.9 L205.7,598.4 L206.8,599.2 L207.9,598.1 L208.9,597.7 L210.0,598.6 L211.0,598.5 L212.0,599.2 L213.0,600.9 L214.1,601.3 L215.2,600.1 L216.3,601.0 L217.4,601.6 L218.5,601.8 L219.6,601.2 L220.7,602.3 L221.8,600.9 L222.9,602.1 L223.9,602.1 L224.9,602.2 L225.9,601.3 L227.0,600.4 L228.0,600.1 L229.0,601.0 L230.0,600.1 L231.0,600.9 L232.0,599.7 L233.1,601.0 L234.1,599.7 L235.1,599.2 L236.1,599.4 L237.1,599.9 L238.2,600.0 L239.2,599.6 L240.2,599.1 L241.3,599.7 L242.3,600.6 L243.3,599.7 L244.3,600.5 L245.4,598.6 L246.4,600.5 L247.4,600.2 L248.5,599.5 L249.5,599.4 L250.5,599.4 L251.6,600.1 L252.6,598.3 L253.6,599.4 L254.6,599.1 L255.7,598.6 L256.7,599.3 L257.7,599.3 L258.7,597.9 L259.8,599.1 L260.8,598.5 L261.8,598.5 L262.8,598.7 L263.9,597.5 L264.9,598.5 L265.9,598.0 L266.9,598.9 L268.0,597.5 L269.0,598.6 L270.0,598.4 L271.0,598.2 L272.0,598.7 L273.0,597.1 L274.0,598.3 L275.0,598.3 L276.0,598.5 L277.0,598.0 L278.0,597.4 L279.0,597.6 L280.0,598.5 L281.0,597.7 L282.0,597.5 L283.0,598.1 L284.0,598.4 L285.0,598.6 L286.1,597.4 L287.1,598.8 L288.2,597.8 L289.2,598.6 L290.3,597.0 L291.3,598.8 L292.4,597.9 L293.5,598.6 L294.5,598.5 L295.6,598.1 L296.6,596.5 L297.7,596.9 L298.7,596.6 L299.8,597.6 L300.2,595.4 L300.5,594.6 L300.9,593.4 L301.2,592.5 L301.6,593.2 L301.9,592.3 L302.3,590.2 L302.6,590.0 L303.0,588.5 L303.3,587.7 L303.7,586.4 L304.0,586.0 L304.4,584.3 L304.6,583.3 L304.8,582.8 L305.0,581.1 L305.1,580.5 L305.3,580.5 L305.5,577.6 L305.7,576.7 L305.9,577.1 L306.1,574.6 L306.3,573.9 L306.5,574.1 L306.6,572.6 L306.8,570.8 L307.0,569.4 L307.2,568.8 L307.4,567.8 L307.5,567.8 L307.6,567.1 L307.7,565.7 L307.8,564.9 L307.9,563.9 L308.0,562.8 L308.1,561.8 L308.2,560.9 L308.3,558.1 L308.4,557.5 L308.5,556.3 L308.7,556.0 L308.8,554.8 L308.9,553.4 L309.0,553.4 L309.1,551.5 L309.2,550.1 L309.3,549.2 L309.4,548.5 L309.5,547.8 L309.6,546.7 L309.7,545.4 L309.8,543.8 L309.8,543.2 L309.9,542.0 L310.0,540.7 L310.0,540.4 L310.1,538.7 L310.2,538.7 L310.2,537.5 L310.3,535.4 L310.4,535.4 L310.4,533.8 L310.5,533.0 L310.6,532.2 L310.7,531.5 L310.7,530.7 L310.8,529.4 L310.9,527.3 L310.9,526.9 L311.0,525.5 L311.1,523.8 L311.1,523.8 L311.2,522.6 L311.3,522.4 L311.4,520.2 L311.5,520.2 L311.6,518.5 L311.7,516.6 L311.8,516.8 L311.8,514.9 L311.9,514.3 L312.0,512.3 L312.1,511.1 L312.2,511.9 L312.3,509.1 L312.3,508.3 L312.4,507.3 L312.4,506.1 L312.5,506.6 L312.5,505.9 L312.5,504.2 L312.6,502.6 L312.6,502.6 L312.7,500.8 L312.7,499.0 L312.7,499.1 L312.8,497.4 L312.8,496.2 L312.9,495.3 L312.9,494.4 L312.9,493.0 L313.0,492.8 L313.0,492.3 L313.1,490.7 L313.1,488.6 L313.1,488.9 L313.2,486.5 L313.2,486.4 L313.3,486.2 L313.3,484.8 L313.3,484.2 L313.4,482.9 L313.4,480.9 L313.5,479.6 L313.5,479.2 L313.6,478.6 L313.6,476.7 L313.6,475.9 L313.7,475.7 L313.8,473.9 L313.8,473.4 L313.9,472.3 L313.9,472.0 L313.9,469.2 L314.0,468.5 L314.1,468.6 L314.1,467.4 L314.1,465.2 L314.2,464.3 L314.2,463.4 L314.3,463.1 L314.4,462.8 L314.4,460.4 L314.4,459.3 L314.5,459.3 L314.6,457.7 L314.6,457.6 L314.7,456.9 L314.7,455.7 L314.8,454.3 L314.8,452.8 L314.9,450.9 L315.0,451.4 L315.1,449.5 L315.2,448.6 L315.3,447.9 L315.4,447.5 L315.5,445.7 L315.6,445.4 L315.7,444.4 L315.8,441.7 L315.9,441.2 L316.0,441.2 L316.1,439.9 L316.2,439.3 L316.3,436.7 L316.4,436.4 L316.5,436.2 L316.6,434.4 L316.6,433.6 L316.7,433.2 L316.8,430.6 L316.9,429.4 L316.9,429.9 L317.0,428.4 L317.1,426.6 L317.2,426.9 L317.3,424.8 L317.3,423.4 L317.4,422.8 L317.5,421.2 L317.6,421.0 L317.6,420.7 L317.7,419.0 L317.8,419.1 L317.9,416.2 L318.0,415.5 L318.0,414.4 L318.1,414.2 L318.2,412.5 L318.3,412.4 L318.4,411.1 L318.4,410.2 L318.5,409.7 L318.6,408.6 L318.7,407.9 L318.7,405.3 L318.8,404.8 L318.9,404.9 L319.0,404.8 L319.2,405.6 L319.3,407.1 L319.5,407.5 L319.6,409.9 L319.8,410.5 L319.9,410.4 L320.0,413.2 L320.2,413.3 L320.3,413.8 L320.5,415.6 L320.6,417.3 L320.7,417.1 L320.7,417.4 L320.8,418.8 L320.9,419.6 L320.9,421.5 L321.0,422.1 L321.1,424.2 L321.2,423.9 L321.2,424.5 L321.3,426.4 L321.4,426.7 L321.4,428.1 L321.5,429.0 L321.6,429.9 L321.6,431.8 L321.7,433.4 L321.8,433.3 L321.9,434.8 L321.9,435.2 L322.0,437.4 L322.1,437.7 L322.1,437.6 L322.2,440.1 L322.3,440.1 L322.3,440.8 L322.4,441.7 L322.5,444.4 L322.6,445.2 L322.6,445.5 L322.7,446.9 L322.8,448.3 L322.8,448.1 L322.9,450.3 L323.0,451.4 L323.0,452.9 L323.1,452.2 L323.2,454.2 L323.3,455.1 L323.3,456.8 L323.4,456.9 L323.5,458.5 L323.5,460.0 L323.6,460.0 L323.7,461.3 L323.8,463.1 L323.8,462.4 L323.9,465.3 L323.9,465.1 L324.0,466.4 L324.0,467.1 L324.0,469.1 L324.1,469.6 L324.1,471.1 L324.1,470.8 L324.2,473.4 L324.2,474.3 L324.2,475.1 L324.3,475.2 L324.3,476.3 L324.3,477.7 L324.4,478.0 L324.4,480.8 L324.4,480.7 L324.5,482.9 L324.5,482.4 L324.5,484.3 L324.6,485.7 L324.6,486.4 L324.6,487.0 L324.7,487.2 L324.7,489.1 L324.7,490.0 L324.8,492.2 L324.8,493.3 L324.9,494.3 L324.9,495.4 L324.9,494.8 L325.0,495.5 L325.0,497.1 L325.1,497.6 L325.1,498.8 L325.1,500.8 L325.2,501.1 L325.2,502.9 L325.3,503.5 L325.3,504.3 L325.3,506.8 L325.4,506.3 L325.4,508.7 L325.5,509.0 L325.5,510.3 L325.6,510.3 L325.7,512.5 L325.7,513.8 L325.8,513.5 L325.9,515.0 L326.0,516.4 L326.1,517.1 L326.1,518.6 L326.2,519.4 L326.3,519.8 L326.4,521.5 L326.5,522.7 L326.5,523.1 L326.6,524.4 L326.7,525.5 L326.8,526.2 L326.9,526.4 L326.9,528.1 L327.0,529.8 L327.1,530.7 L327.2,530.5 L327.3,532.3 L327.3,533.6 L327.4,534.5 L327.5,534.8 L327.6,536.8 L327.7,538.0 L327.7,538.7 L327.8,540.5 L327.9,540.8 L328.0,540.7 L328.0,542.3 L328.1,544.2 L328.2,544.0 L328.3,546.8 L328.4,547.3 L328.4,548.5 L328.5,548.3 L328.6,549.0 L328.8,551.8 L328.9,552.0 L329.1,552.9 L329.3,554.1 L329.5,555.6 L329.6,555.8 L329.8,557.6 L330.0,557.4 L330.1,560.1 L330.3,560.5 L330.5,560.8 L330.7,562.1 L330.8,563.9 L331.0,563.8 L331.2,565.6 L331.4,567.0 L331.5,568.1 L331.7,567.7 L332.0,569.8 L332.2,570.4 L332.5,571.7 L332.8,571.2 L333.0,572.9 L333.3,574.0 L333.6,575.7 L333.8,575.9 L334.1,576.1 L334.3,577.4 L334.6,579.6 L334.9,580.7 L335.1,581.0 L335.4,581.0 L335.7,583.4 L335.9,584.6 L336.2,584.4 L336.5,585.8 L336.7,586.4 L337.0,586.9 L337.3,589.2 L337.6,589.1 L337.8,589.9 L338.1,592.6 L338.4,591.9 L338.6,594.3 L338.9,595.4 L339.2,595.2 L339.5,596.5 L339.7,597.2 L340.0,599.1 L341.0,599.7 L342.0,599.4 L343.0,599.0 L344.0,599.2 L345.0,599.0 L346.0,599.7 L347.0,598.9 L348.1,599.0 L349.1,600.0 L350.1,599.2 L351.1,600.8 L352.1,600.4 L353.1,599.4 L354.1,599.1 L355.1,600.4 L356.1,599.6 L357.1,600.3 L358.1,600.6 L359.1,601.1 L360.1,600.3 L361.1,600.6 L362.1,601.2 L363.1,599.9 L364.1,600.4 L365.1,601.4 L366.1,600.5 L367.1,601.7 L368.1,600.1 L369.1,600.1 L370.1,600.7 L371.1,601.0 L372.1,600.8 L373.1,600.6 L374.1,601.1 L375.1,602.0 L376.1,602.2 L377.1,601.6 L378.1,600.9 L379.1,601.6 L380.1,600.8 L381.2,600.7 L382.2,602.2 L383.2,601.2 L384.2,601.0 L385.2,602.4 L386.2,601.0 L387.2,601.3 L388.2,601.2 L389.2,602.7 L390.2,602.3 L391.2,601.3 L392.2,601.0 L393.2,602.7 L394.2,601.2 L395.2,602.3 L396.2,602.3 L397.2,602.1 L398.2,601.9 L399.2,601.7 L400.2,601.5 L401.2,602.2 L402.2,601.2 L403.2,601.9 L404.2,601.4 L405.2,601.6 L406.2,602.6 L407.2,601.9 L408.2,602.0 L409.2,601.9 L410.2,600.6 L411.2,602.1 L412.2,602.2 L413.3,601.9 L414.3,601.4 L415.3,602.0 L416.3,602.2 L417.3,600.8 L418.3,600.5 L419.3,600.8 L420.3,600.1 L421.3,600.5 L422.3,600.1 L423.3,599.8 L424.3,600.5 L425.3,599.6 L426.3,600.5 L427.3,601.1 L428.4,600.7 L429.4,599.3 L430.4,600.6 L431.4,599.4 L432.4,600.5 L433.4,600.1 L434.4,599.8 L435.4,599.5 L436.4,600.5 L437.5,598.7 L438.5,599.9 L439.6,598.4 L440.7,598.0 L441.7,598.0 L442.8,597.5 L443.9,598.9 L444.9,597.4 L446.0,598.0" fill="none" stroke="#4472c4" stroke-width="2.4" stroke-linejoin="round" stroke-linecap="round" />
<path d="M79.5,603.0 L85.3,598.4 L91.2,591.4 L97.0,583.2 L102.9,571.5 L106.4,557.5 L109.9,548.8 L113.4,551.7 L116.9,559.9 L120.4,568.0 L125.1,576.2 L129.7,580.3 L134.4,579.7 L139.1,576.2 L144.9,569.2 L149.6,559.9 L153.1,552.8 L156.0,547.0 L158.6,541.3 L165.3,531.4 L171.9,524.8 L176.6,523.1 L184.0,520.7 L193.1,524.8 L199.8,529.8 L206.4,539.7 L213.0,547.9 L219.6,557.9 L225.4,564.5 L232.8,569.4 L241.1,573.6 L249.3,575.2 L259.3,576.0 L274.1,575.8 L287.7,574.2 L299.8,569.7 L307.4,560.6 L312.0,548.5 L315.0,536.4 L317.3,524.2 L319.5,515.6 L320.3,514.4 L322.0,515.2 L324.1,518.2 L327.1,525.8 L330.2,537.9 L332.4,550.0 L334.7,560.6 L339.2,569.7 L346.4,576.2 L352.8,580.2 L360.9,581.0 L368.9,580.2 L376.9,577.8 L385.0,575.4 L393.0,573.0 L401.0,571.1 L409.1,571.4 L417.1,573.0 L425.1,574.1 L433.1,575.4 L446.0,575.7" fill="none" stroke="#ffc000" stroke-width="2.3" stroke-linejoin="round" stroke-linecap="round" />
<circle cx="80.7" cy="597.2" r="2.95" fill="none" stroke="#000" stroke-width="1.5"/><circle cx="83.6" cy="594.3" r="2.95" fill="none" stroke="#000" stroke-width="1.5"/><circle cx="84.8" cy="592.0" r="2.95" fill="none" stroke="#000" stroke-width="1.5"/><circle cx="90.0" cy="585.5" r="2.95" fill="none" stroke="#000" stroke-width="1.5"/><circle cx="92.4" cy="583.2" r="2.95" fill="none" stroke="#000" stroke-width="1.5"/><circle cx="94.7" cy="580.3" r="2.95" fill="none" stroke="#000" stroke-width="1.5"/><circle cx="98.2" cy="573.3" r="2.95" fill="none" stroke="#000" stroke-width="1.5"/><circle cx="101.1" cy="568.0" r="2.95" fill="none" stroke="#000" stroke-width="1.5"/><circle cx="108.7" cy="565.1" r="2.95" fill="none" stroke="#000" stroke-width="1.5"/><circle cx="111.6" cy="571.0" r="2.95" fill="none" stroke="#000" stroke-width="1.5"/><circle cx="114.0" cy="574.5" r="2.95" fill="none" stroke="#000" stroke-width="1.5"/><circle cx="116.3" cy="578.5" r="2.95" fill="none" stroke="#000" stroke-width="1.5"/><circle cx="119.8" cy="583.8" r="2.95" fill="none" stroke="#000" stroke-width="1.5"/><circle cx="126.8" cy="586.7" r="2.95" fill="none" stroke="#000" stroke-width="1.5"/><circle cx="134.4" cy="583.4" r="2.95" fill="none" stroke="#000" stroke-width="1.5"/><circle cx="141.4" cy="578.0" r="2.95" fill="none" stroke="#000" stroke-width="1.5"/><circle cx="143.7" cy="574.5" r="2.95" fill="none" stroke="#000" stroke-width="1.5"/><circle cx="146.7" cy="570.6" r="2.95" fill="none" stroke="#000" stroke-width="1.5"/><circle cx="152.5" cy="566.3" r="2.95" fill="none" stroke="#000" stroke-width="1.5"/><circle cx="163.6" cy="563.6" r="2.95" fill="none" stroke="#000" stroke-width="1.5"/><circle cx="174.5" cy="563.0" r="2.95" fill="none" stroke="#000" stroke-width="1.5"/><circle cx="186.0" cy="564.8" r="2.95" fill="none" stroke="#000" stroke-width="1.5"/><circle cx="195.6" cy="567.8" r="2.95" fill="none" stroke="#000" stroke-width="1.5"/><circle cx="201.4" cy="572.2" r="2.95" fill="none" stroke="#000" stroke-width="1.5"/><circle cx="206.0" cy="577.2" r="2.95" fill="none" stroke="#000" stroke-width="1.5"/><circle cx="211.0" cy="581.5" r="2.95" fill="none" stroke="#000" stroke-width="1.5"/><circle cx="221.7" cy="583.5" r="2.95" fill="none" stroke="#000" stroke-width="1.5"/><circle cx="232.0" cy="581.0" r="2.95" fill="none" stroke="#000" stroke-width="1.5"/><circle cx="243.2" cy="579.0" r="2.95" fill="none" stroke="#000" stroke-width="1.5"/><circle cx="254.6" cy="577.4" r="2.95" fill="none" stroke="#000" stroke-width="1.5"/><circle cx="264.9" cy="577.4" r="2.95" fill="none" stroke="#000" stroke-width="1.5"/><circle cx="273.8" cy="580.3" r="2.95" fill="none" stroke="#000" stroke-width="1.5"/><circle cx="285.0" cy="579.1" r="2.95" fill="none" stroke="#000" stroke-width="1.5"/><circle cx="295.3" cy="577.0" r="2.95" fill="none" stroke="#000" stroke-width="1.5"/><circle cx="302.6" cy="573.5" r="2.95" fill="none" stroke="#000" stroke-width="1.5"/><circle cx="304.7" cy="570.5" r="2.95" fill="none" stroke="#000" stroke-width="1.5"/><circle cx="308.2" cy="564.4" r="2.95" fill="none" stroke="#000" stroke-width="1.5"/><circle cx="309.2" cy="561.8" r="2.95" fill="none" stroke="#000" stroke-width="1.5"/><circle cx="312.0" cy="556.1" r="2.95" fill="none" stroke="#000" stroke-width="1.5"/><circle cx="312.7" cy="551.5" r="2.95" fill="none" stroke="#000" stroke-width="1.5"/><circle cx="313.5" cy="547.0" r="2.95" fill="none" stroke="#000" stroke-width="1.5"/><circle cx="314.2" cy="543.2" r="2.95" fill="none" stroke="#000" stroke-width="1.5"/><circle cx="315.0" cy="539.4" r="2.95" fill="none" stroke="#000" stroke-width="1.5"/><circle cx="315.5" cy="536.4" r="2.95" fill="none" stroke="#000" stroke-width="1.5"/><circle cx="316.2" cy="531.8" r="2.95" fill="none" stroke="#000" stroke-width="1.5"/><circle cx="316.5" cy="527.3" r="2.95" fill="none" stroke="#000" stroke-width="1.5"/><circle cx="317.3" cy="523.5" r="2.95" fill="none" stroke="#000" stroke-width="1.5"/><circle cx="317.7" cy="519.7" r="2.95" fill="none" stroke="#000" stroke-width="1.5"/><circle cx="320.3" cy="515.2" r="2.95" fill="none" stroke="#000" stroke-width="1.5"/><circle cx="323.3" cy="519.7" r="2.95" fill="none" stroke="#000" stroke-width="1.5"/><circle cx="324.8" cy="524.2" r="2.95" fill="none" stroke="#000" stroke-width="1.5"/><circle cx="325.6" cy="528.8" r="2.95" fill="none" stroke="#000" stroke-width="1.5"/><circle cx="326.4" cy="534.1" r="2.95" fill="none" stroke="#000" stroke-width="1.5"/><circle cx="327.1" cy="539.4" r="2.95" fill="none" stroke="#000" stroke-width="1.5"/><circle cx="328.3" cy="544.7" r="2.95" fill="none" stroke="#000" stroke-width="1.5"/><circle cx="329.4" cy="550.0" r="2.95" fill="none" stroke="#000" stroke-width="1.5"/><circle cx="330.5" cy="555.3" r="2.95" fill="none" stroke="#000" stroke-width="1.5"/><circle cx="331.7" cy="559.8" r="2.95" fill="none" stroke="#000" stroke-width="1.5"/><circle cx="332.7" cy="563.6" r="2.95" fill="none" stroke="#000" stroke-width="1.5"/><circle cx="333.9" cy="568.2" r="2.95" fill="none" stroke="#000" stroke-width="1.5"/><circle cx="335.0" cy="572.7" r="2.95" fill="none" stroke="#000" stroke-width="1.5"/><circle cx="337.0" cy="577.3" r="2.95" fill="none" stroke="#000" stroke-width="1.5"/><circle cx="338.5" cy="581.8" r="2.95" fill="none" stroke="#000" stroke-width="1.5"/><circle cx="340.6" cy="586.3" r="2.95" fill="none" stroke="#000" stroke-width="1.5"/><circle cx="349.6" cy="590.2" r="2.95" fill="none" stroke="#000" stroke-width="1.5"/><circle cx="358.5" cy="589.1" r="2.95" fill="none" stroke="#000" stroke-width="1.5"/><circle cx="365.4" cy="585.8" r="2.95" fill="none" stroke="#000" stroke-width="1.5"/><circle cx="370.2" cy="582.6" r="2.95" fill="none" stroke="#000" stroke-width="1.5"/><circle cx="374.5" cy="578.1" r="2.95" fill="none" stroke="#000" stroke-width="1.5"/><circle cx="380.1" cy="571.4" r="2.95" fill="none" stroke="#000" stroke-width="1.5"/><circle cx="383.0" cy="568.2" r="2.95" fill="none" stroke="#000" stroke-width="1.5"/><circle cx="392.7" cy="565.4" r="2.95" fill="none" stroke="#000" stroke-width="1.5"/><circle cx="400.5" cy="569.0" r="2.95" fill="none" stroke="#000" stroke-width="1.5"/><circle cx="404.2" cy="573.0" r="2.95" fill="none" stroke="#000" stroke-width="1.5"/><circle cx="411.9" cy="577.3" r="2.95" fill="none" stroke="#000" stroke-width="1.5"/><circle cx="416.3" cy="581.8" r="2.95" fill="none" stroke="#000" stroke-width="1.5"/><circle cx="420.3" cy="586.6" r="2.95" fill="none" stroke="#000" stroke-width="1.5"/><circle cx="427.5" cy="590.2" r="2.95" fill="none" stroke="#000" stroke-width="1.5"/><circle cx="433.1" cy="593.9" r="2.95" fill="none" stroke="#000" stroke-width="1.5"/><circle cx="442.0" cy="597.1" r="2.95" fill="none" stroke="#000" stroke-width="1.5"/>
</g>
<rect x="77.5" y="359.3" width="590.3" height="329.5" fill="none" stroke="#000" stroke-width="2.3"/>
<line x1="75.0" y1="688.8" x2="77.5" y2="688.8" stroke="#000" stroke-width="1.6"/>
<text x="51.01" y="694.90" font-size="15.6" >0.0</text>
<line x1="75.0" y1="622.9" x2="77.5" y2="622.9" stroke="#000" stroke-width="1.6"/>
<text x="51.01" y="629.00" font-size="15.6" >0.2</text>
<line x1="75.0" y1="557.0" x2="77.5" y2="557.0" stroke="#000" stroke-width="1.6"/>
<text x="51.01" y="563.10" font-size="15.6" >0.4</text>
<line x1="75.0" y1="491.1" x2="77.5" y2="491.1" stroke="#000" stroke-width="1.6"/>
<text x="51.01" y="497.20" font-size="15.6" >0.6</text>
<line x1="75.0" y1="425.2" x2="77.5" y2="425.2" stroke="#000" stroke-width="1.6"/>
<text x="51.01" y="431.30" font-size="15.6" >0.8</text>
<line x1="75.0" y1="359.3" x2="77.5" y2="359.3" stroke="#000" stroke-width="1.6"/>
<path d="M763,0 L583,0 L583,1098 Q518,1039 412,980 Q307,920 223,890 L223,1057 Q374,1125 487,1222 Q600,1318 647,1409 L763,1409 Z" transform="translate(51.01,365.40) scale(0.00762,-0.00762)" fill="#000"/><text x="59.69" y="365.40" font-size="15.6" >.0</text>
<line x1="77.7" y1="688.8" x2="77.7" y2="691.0" stroke="#000" stroke-width="1.6"/>
<text x="73.34" y="704.60" font-size="15.6" >0</text>
<line x1="151.4" y1="688.8" x2="151.4" y2="691.0" stroke="#000" stroke-width="1.6"/>
<text x="138.43" y="704.60" font-size="15.6" >500</text>
<line x1="225.2" y1="688.8" x2="225.2" y2="691.0" stroke="#000" stroke-width="1.6"/>
<path d="M763,0 L583,0 L583,1098 Q518,1039 412,980 Q307,920 223,890 L223,1057 Q374,1125 487,1222 Q600,1318 647,1409 L763,1409 Z" transform="translate(207.85,704.60) scale(0.00762,-0.00762)" fill="#000"/><text x="216.53" y="704.60" font-size="15.6" >000</text>
<line x1="299.0" y1="688.8" x2="299.0" y2="691.0" stroke="#000" stroke-width="1.6"/>
<path d="M763,0 L583,0 L583,1098 Q518,1039 412,980 Q307,920 223,890 L223,1057 Q374,1125 487,1222 Q600,1318 647,1409 L763,1409 Z" transform="translate(281.62,704.60) scale(0.00762,-0.00762)" fill="#000"/><text x="290.29" y="704.60" font-size="15.6" >500</text>
<line x1="372.7" y1="688.8" x2="372.7" y2="691.0" stroke="#000" stroke-width="1.6"/>
<text x="355.38" y="704.60" font-size="15.6" >2000</text>
<line x1="446.5" y1="688.8" x2="446.5" y2="691.0" stroke="#000" stroke-width="1.6"/>
<text x="429.14" y="704.60" font-size="15.6" >2500</text>
<line x1="520.3" y1="688.8" x2="520.3" y2="691.0" stroke="#000" stroke-width="1.6"/>
<text x="502.90" y="704.60" font-size="15.6" >3000</text>
<line x1="594.0" y1="688.8" x2="594.0" y2="691.0" stroke="#000" stroke-width="1.6"/>
<text x="576.67" y="704.60" font-size="15.6" >3500</text>
<line x1="667.8" y1="688.8" x2="667.8" y2="691.0" stroke="#000" stroke-width="1.6"/>
<text x="650.43" y="704.60" font-size="15.6" >4000</text>
<rect x="89.3" y="375.5" width="101" height="96.7" rx="2.5" fill="#fff" fill-opacity="0.8" stroke="#dcdcdc" stroke-width="1"/>
<line x1="92.8" y1="385.7" x2="122.6" y2="385.7" stroke="#ff0000" stroke-width="3.7"/>
<text x="130.8" y="390.4" font-size="13.35">HotPP</text>
<line x1="92.8" y1="404.6" x2="122.6" y2="404.6" stroke="#4472c4" stroke-width="2.2"/>
<text x="130.8" y="409.3" font-size="13.35">MB-pol</text>
<line x1="92.8" y1="423.5" x2="122.6" y2="423.5" stroke="#ffc000" stroke-width="2.2"/>
<text x="130.8" y="428.2" font-size="13.35">DeePMD</text>
<line x1="92.8" y1="442.4" x2="122.6" y2="442.4" stroke="#00b0f0" stroke-width="2.5"/>
<text x="130.8" y="447.1" font-size="13.35">T-EANN</text>
<circle cx="107.6" cy="461.6" r="5.6" fill="none" stroke="#000" stroke-width="1.5"/>
<text x="130.8" y="466.0" font-size="13.35">Expt</text>
<path d="M74.6,688.5 L74.6,692.3 L78.4,692.3 M86.60,692.3 L94.20,692.3 M102.23,692.3 L109.83,692.3 M117.86,692.3 L125.46,692.3 M133.49,692.3 L141.09,692.3 M149.12,692.3 L156.72,692.3 M164.75,692.3 L172.35,692.3 M180.38,692.3 L187.98,692.3 M196.01,692.3 L203.61,692.3 M211.64,692.3 L219.24,692.3 M227.27,692.3 L234.87,692.3 M242.90,692.3 L250.50,692.3 M258.53,692.3 L266.13,692.3 M274.16,692.3 L281.76,692.3 M289.79,692.3 L297.39,692.3 M305.42,692.3 L313.02,692.3 M321.05,692.3 L328.65,692.3 M336.68,692.3 L344.28,692.3 M352.31,692.3 L359.91,692.3 M367.94,692.3 L375.54,692.3 M383.57,692.3 L391.17,692.3 M399.20,692.3 L406.80,692.3 M414.83,692.3 L422.43,692.3 M430.46,692.3 L438.06,692.3 M446.09,692.3 L450,692.3 L450,688.6 M74.6,669.2 L74.6,665.4 L78.4,665.4 M86.60,665.4 L94.20,665.4 M102.23,665.4 L109.83,665.4 M117.86,665.4 L125.46,665.4 M133.49,665.4 L141.09,665.4 M149.12,665.4 L156.72,665.4 M164.75,665.4 L172.35,665.4 M180.38,665.4 L187.98,665.4 M196.01,665.4 L203.61,665.4 M211.64,665.4 L219.24,665.4 M227.27,665.4 L234.87,665.4 M242.90,665.4 L250.50,665.4 M258.53,665.4 L266.13,665.4 M274.16,665.4 L281.76,665.4 M289.79,665.4 L297.39,665.4 M305.42,665.4 L313.02,665.4 M321.05,665.4 L328.65,665.4 M336.68,665.4 L344.28,665.4 M352.31,665.4 L359.91,665.4 M367.94,665.4 L375.54,665.4 M383.57,665.4 L391.17,665.4 M399.20,665.4 L406.80,665.4 M414.83,665.4 L422.43,665.4 M430.46,665.4 L438.06,665.4 M446.09,665.4 L450,665.4 L450,669.1 M450,682.3 L450,675.6 M74.6,681.8 L74.6,675.9" fill="none" stroke="#000" stroke-width="2" stroke-linejoin="miter"/>
<line x1="267.3" y1="665.5" x2="267.3" y2="625" stroke="#000" stroke-width="1.8"/>
<path d="M267.3,608.5 L275.8,627.6 L267.3,625.5 L259,627.6 Z" fill="#000"/>
<g transform="translate(0,650.6) scale(1,1.07) translate(0,-650.6)"><path d="M763,0 L583,0 L583,1098 Q518,1039 412,980 Q307,920 223,890 L223,1057 Q374,1125 487,1222 Q600,1318 647,1409 L763,1409 Z" transform="translate(281.50,650.60) scale(0.01611,-0.01611)" fill="#000"/><text x="299.85" y="650.60" font-size="33" >0x</text></g>
<text x="-1.6" y="25.7" font-size="32">(<tspan dx="-0.5">a</tspan><tspan dx="1.8">)</tspan></text>
<text x="0.4" y="364.8" font-size="32">(b<tspan dx="1.5">)</tspan></text>
<text transform="translate(46.2,170.1) rotate(-90)" font-size="15.9" text-anchor="middle">IR intensity (arb. units)</text>
<text transform="translate(46.2,524.0) rotate(-90)" font-size="15.9" text-anchor="middle">anisotropic Raman intensity (arb. units)</text>
<text x="311.20" y="723.50" font-size="15.6" letter-spacing="0.18">Frequency (cm</text>
<text x="417.57" y="717.30" font-size="10.6">-</text>
<path d="M763,0 L583,0 L583,1098 Q518,1039 412,980 Q307,920 223,890 L223,1057 Q374,1125 487,1222 Q600,1318 647,1409 L763,1409 Z" transform="translate(421.10,717.30) scale(0.00518,-0.00518)" fill="#000"/>
<text x="426.99" y="723.50" font-size="15.6">)</text>
<defs><clipPath id="ca"><rect x="77.5" y="6.0" width="590.3" height="329.1"/></clipPath><clipPath id="cb"><rect x="77.5" y="359.3" width="590.3" height="329.5"/></clipPath></defs>
</svg></body></html>
